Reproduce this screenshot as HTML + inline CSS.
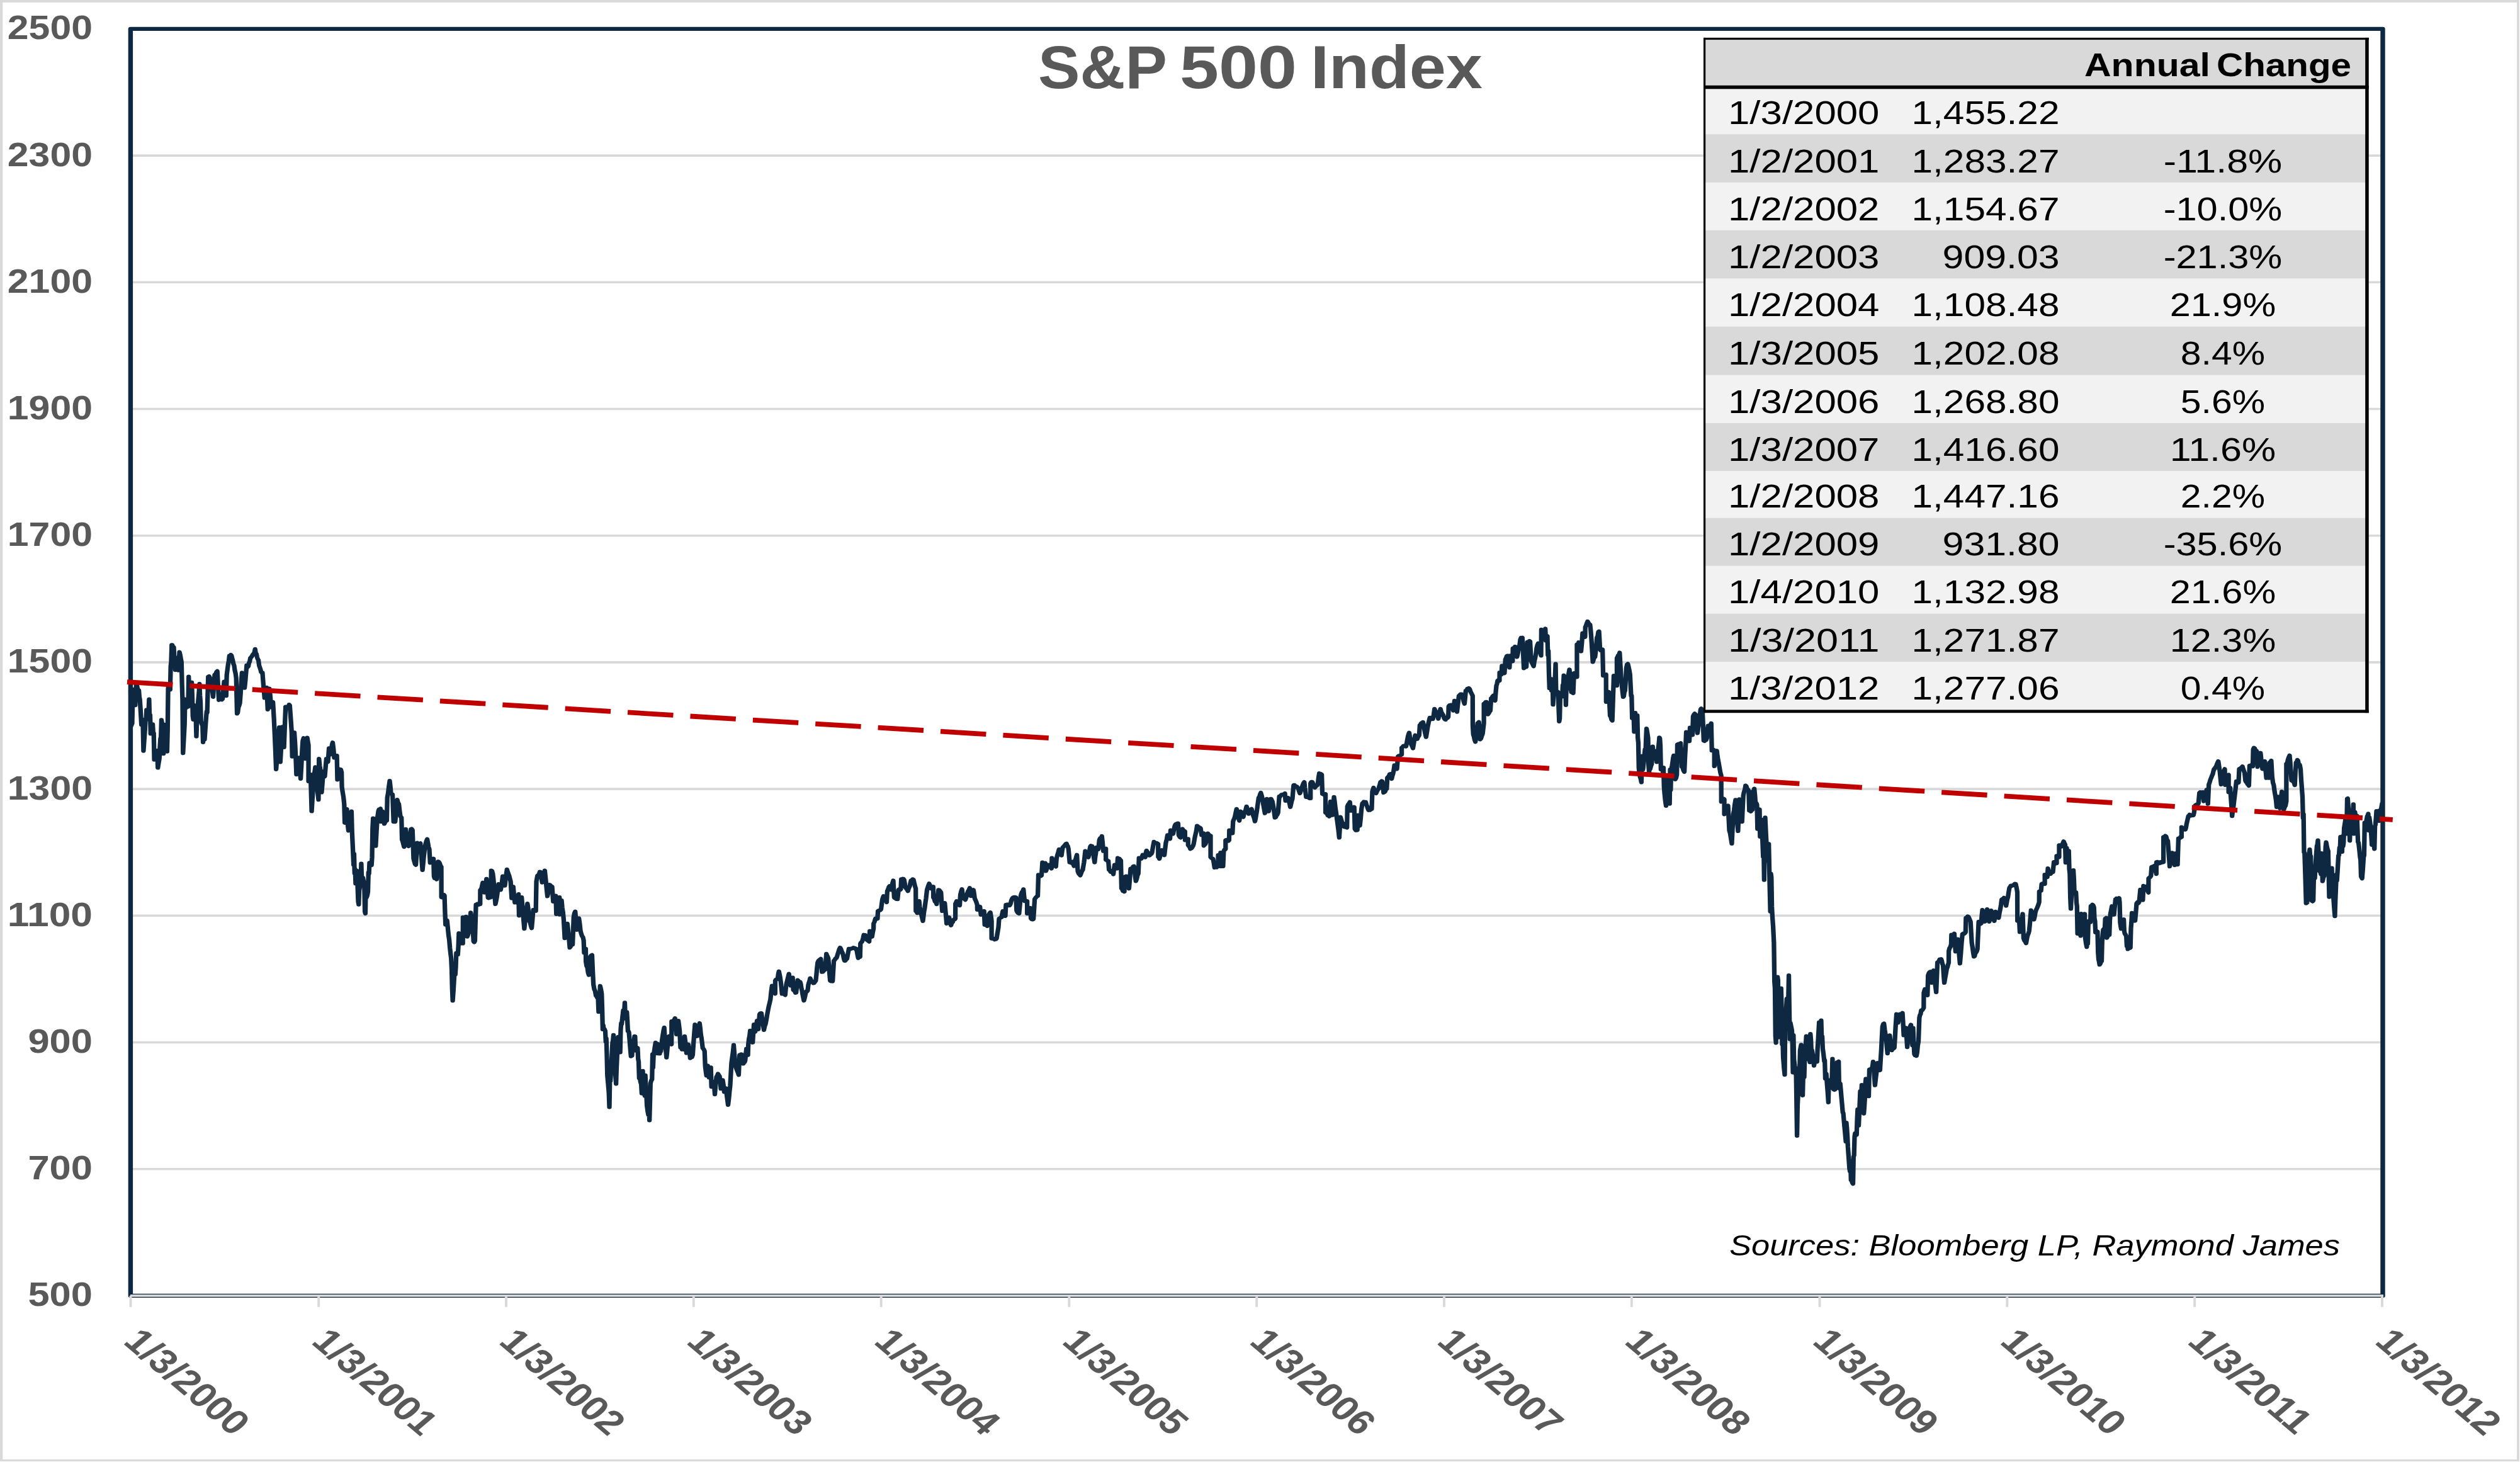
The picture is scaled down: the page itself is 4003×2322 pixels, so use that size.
<!DOCTYPE html>
<html><head><meta charset="utf-8"><title>S&amp;P 500 Index</title>
<style>
html,body{margin:0;padding:0;background:#fff;}
body{width:4003px;height:2322px;overflow:hidden;font-family:"Liberation Sans",sans-serif;}
svg{display:block;position:absolute;left:0;top:0;}
text{font-family:"Liberation Sans",sans-serif;}
.b{font-weight:bold;fill:#595959;}
.t{fill:#000;}
</style></head><body>
<svg width="4003" height="2322" viewBox="0 0 4003 2322">
<rect x="0" y="0" width="4003" height="2322" fill="#fff"/>
<g fill="#D9D9D9"><rect x="0" y="0" width="4002" height="3.9"/><rect x="0" y="0" width="4.3" height="2321"/><rect x="3998.1" y="0" width="3.8" height="2321"/><rect x="0" y="2317.9" width="4002" height="3.1"/></g>

<g stroke="#D9D9D9" stroke-width="3.6" fill="none">
<line x1="207.4" y1="247.1" x2="3785.0" y2="247.1"/>
<line x1="207.4" y1="448.3" x2="3785.0" y2="448.3"/>
<line x1="207.4" y1="649.5" x2="3785.0" y2="649.5"/>
<line x1="207.4" y1="850.7" x2="3785.0" y2="850.7"/>
<line x1="207.4" y1="1051.9" x2="3785.0" y2="1051.9"/>
<line x1="207.4" y1="1253.1" x2="3785.0" y2="1253.1"/>
<line x1="207.4" y1="1454.3" x2="3785.0" y2="1454.3"/>
<line x1="207.4" y1="1655.5" x2="3785.0" y2="1655.5"/>
<line x1="207.4" y1="1856.7" x2="3785.0" y2="1856.7"/>
</g>
<g transform="scale(1.177,1)"><path d="M176.30,1096.9 L176.99,1153.1 L177.68,1150.4 L178.38,1149.0 L179.07,1110.8 L180.11,1102.1 L181.15,1094.6 L181.84,1113.7 L182.54,1120.1 L183.23,1102.5 L183.92,1087.0 L184.85,1089.1 L185.77,1094.2 L186.69,1097.0 L187.39,1096.3 L188.08,1106.7 L188.77,1110.9 L189.81,1129.4 L190.85,1151.0 L191.55,1142.4 L192.24,1148.4 L192.93,1153.9 L193.63,1192.6 L194.67,1175.4 L195.71,1158.1 L196.40,1143.2 L197.09,1143.3 L197.79,1127.4 L198.48,1128.0 L199.52,1127.6 L200.56,1128.1 L201.25,1110.5 L201.95,1140.7 L202.64,1135.6 L203.33,1165.5 L204.37,1162.6 L205.41,1162.6 L206.11,1150.4 L206.80,1164.9 L207.49,1164.3 L208.19,1206.7 L209.11,1204.7 L210.04,1200.9 L210.96,1200.6 L211.65,1192.0 L212.35,1199.3 L213.04,1219.5 L214.08,1211.9 L215.12,1204.8 L215.81,1186.3 L216.51,1173.4 L217.20,1170.8 L217.89,1143.3 L218.93,1150.7 L219.97,1161.3 L220.67,1197.1 L221.36,1186.0 L222.05,1150.8 L222.75,1157.5 L223.79,1161.7 L224.83,1169.0 L225.52,1193.6 L226.21,1160.4 L226.91,1093.7 L227.60,1087.6 L228.64,1091.3 L229.68,1095.5 L230.37,1058.1 L231.06,1051.3 L231.76,1024.4 L232.45,1024.3 L233.49,1027.5 L234.53,1027.9 L235.22,1044.1 L235.92,1043.3 L236.61,1064.1 L237.30,1053.3 L238.34,1047.9 L239.38,1045.9 L240.08,1057.2 L240.77,1064.6 L241.46,1050.6 L242.16,1035.5 L243.20,1040.2 L244.24,1047.4 L244.93,1051.3 L245.62,1084.9 L246.32,1111.7 L247.01,1196.2 L248.05,1174.2 L249.09,1151.1 L249.78,1110.6 L250.48,1124.9 L251.17,1117.8 L252.09,1121.2 L253.02,1121.2 L253.94,1122.5 L254.64,1074.6 L255.33,1091.1 L256.02,1087.2 L256.72,1099.8 L257.76,1091.3 L258.80,1083.8 L259.49,1105.9 L260.18,1137.3 L260.88,1142.9 L261.57,1119.7 L262.61,1126.1 L263.65,1128.2 L264.34,1140.3 L265.04,1169.6 L265.73,1144.6 L266.42,1131.4 L267.46,1113.5 L268.50,1099.8 L269.20,1086.1 L269.89,1104.4 L270.58,1115.1 L271.28,1145.5 L272.32,1150.2 L273.36,1151.8 L274.05,1178.8 L274.74,1153.5 L275.44,1171.1 L276.13,1174.6 L277.05,1158.8 L277.98,1143.2 L278.90,1129.9 L279.59,1131.8 L280.29,1103.4 L280.98,1074.8 L282.16,1074.0 L283.34,1076.8 L284.40,1079.2 L285.46,1083.4 L286.53,1096.6 L287.59,1106.8 L288.65,1087.8 L289.72,1071.8 L290.60,1070.7 L291.49,1069.5 L292.38,1066.8 L293.26,1065.9 L294.33,1089.1 L295.39,1111.8 L296.38,1109.5 L297.37,1109.2 L298.37,1109.5 L299.36,1111.3 L300.35,1110.1 L301.41,1096.1 L302.48,1082.6 L303.42,1089.3 L304.37,1098.0 L305.31,1105.1 L306.02,1071.8 L306.91,1064.0 L307.79,1055.8 L308.68,1050.6 L309.57,1041.7 L310.51,1042.4 L311.46,1040.0 L312.40,1040.9 L313.29,1045.2 L314.17,1048.9 L315.06,1054.5 L315.94,1056.7 L316.89,1064.5 L317.84,1069.1 L318.78,1076.8 L319.91,1133.5 L320.87,1131.7 L321.83,1123.3 L322.79,1120.6 L323.74,1116.8 L324.69,1102.0 L325.63,1082.7 L326.58,1068.4 L327.46,1074.4 L328.35,1078.1 L329.24,1087.5 L330.12,1092.6 L331.07,1082.2 L332.01,1069.1 L332.96,1056.7 L334.02,1059.7 L335.08,1058.4 L336.03,1052.9 L336.97,1050.7 L337.92,1045.1 L338.98,1043.9 L340.05,1042.2 L341.11,1039.8 L342.17,1038.4 L343.24,1036.7 L344.30,1030.9 L345.18,1037.6 L346.07,1038.6 L346.96,1043.8 L347.84,1046.7 L348.79,1048.5 L349.73,1056.9 L350.68,1060.1 L351.56,1063.1 L352.45,1067.4 L353.34,1068.4 L354.22,1068.4 L355.64,1090.1 L357.06,1108.5 L358.00,1101.5 L358.95,1096.6 L359.89,1091.8 L361.31,1126.8 L362.37,1111.2 L363.44,1093.5 L364.38,1100.4 L365.33,1113.2 L366.27,1123.5 L367.34,1117.1 L368.40,1115.1 L369.82,1143.5 L370.76,1167.0 L371.71,1192.8 L372.65,1221.9 L373.72,1207.0 L374.78,1186.1 L375.84,1170.2 L376.91,1155.2 L378.32,1210.3 L379.27,1190.9 L380.21,1175.5 L381.16,1154.4 L382.22,1167.8 L383.28,1186.9 L384.35,1154.4 L385.41,1122.7 L386.36,1122.6 L387.30,1124.4 L388.25,1123.6 L389.19,1123.5 L390.14,1119.1 L391.08,1120.2 L391.95,1133.9 L392.81,1147.9 L393.68,1163.3 L394.39,1201.7 L395.33,1191.8 L396.28,1179.5 L397.22,1163.3 L398.15,1179.1 L399.07,1200.1 L400.06,1230.1 L400.94,1221.0 L401.83,1214.7 L402.72,1208.1 L403.60,1203.4 L404.67,1220.0 L405.73,1236.8 L406.67,1217.4 L407.62,1195.0 L408.57,1176.7 L409.77,1172.2 L410.98,1175.0 L412.11,1205.1 L412.96,1193.4 L413.81,1181.9 L414.66,1171.7 L415.51,1178.0 L416.36,1183.4 L416.36,1240.9 L417.31,1240.6 L418.25,1235.1 L419.20,1230.1 L420.62,1288.5 L421.56,1270.2 L422.51,1252.6 L423.45,1233.4 L424.51,1227.1 L425.58,1218.4 L426.64,1228.1 L427.70,1243.4 L428.77,1259.3 L429.83,1270.1 L430.54,1205.1 L431.60,1216.8 L432.67,1225.1 L434.08,1258.5 L435.15,1243.9 L436.21,1225.1 L437.27,1230.9 L438.34,1233.4 L439.40,1218.7 L440.46,1205.1 L441.53,1207.0 L442.59,1210.1 L444.01,1188.4 L445.07,1191.2 L446.13,1198.4 L447.08,1192.7 L448.02,1183.3 L448.97,1179.2 L450.03,1189.0 L451.10,1203.4 L451.98,1201.0 L452.87,1200.0 L453.75,1200.1 L454.64,1200.1 L455.35,1238.4 L456.23,1231.9 L457.12,1227.5 L458.01,1224.1 L458.89,1221.8 L459.96,1222.2 L461.02,1226.8 L461.44,1250.1 L462.48,1258.4 L463.52,1265.6 L464.56,1276.8 L465.27,1306.8 L466.22,1301.4 L467.16,1292.9 L468.11,1285.2 L469.55,1312.2 L470.25,1319.3 L471.29,1314.2 L472.33,1312.0 L473.02,1299.6 L473.71,1291.4 L474.41,1288.6 L475.10,1320.1 L476.14,1345.8 L477.18,1373.7 L477.87,1356.1 L478.57,1387.2 L479.26,1380.3 L479.95,1403.5 L480.99,1392.6 L482.03,1383.1 L482.73,1411.4 L483.42,1432.0 L484.11,1436.6 L484.81,1414.2 L485.85,1407.2 L486.89,1401.3 L487.58,1371.6 L488.27,1400.7 L488.97,1406.1 L489.66,1393.6 L490.70,1399.2 L491.74,1408.2 L492.43,1447.8 L493.13,1451.0 L493.82,1402.6 L494.51,1425.7 L495.55,1422.7 L496.59,1416.5 L497.29,1385.5 L497.98,1388.0 L498.67,1370.3 L499.60,1373.7 L500.52,1372.7 L501.45,1374.1 L502.14,1361.9 L502.83,1315.3 L503.53,1299.7 L504.22,1310.5 L504.97,1300.2 L506.03,1321.8 L507.09,1343.6 L508.16,1320.1 L509.22,1300.2 L510.64,1288.5 L511.58,1285.4 L512.53,1285.1 L513.47,1284.3 L514.18,1305.2 L515.25,1295.8 L516.31,1288.5 L517.51,1300.0 L518.72,1308.5 L519.81,1305.4 L520.89,1303.1 L521.98,1303.5 L522.69,1266.8 L523.78,1259.8 L524.86,1249.1 L525.95,1240.1 L526.80,1248.6 L527.65,1260.1 L528.71,1261.2 L529.78,1261.8 L531.19,1305.2 L532.26,1303.1 L533.32,1305.2 L534.27,1293.6 L535.21,1283.9 L536.16,1270.1 L537.22,1275.1 L538.28,1276.8 L539.35,1287.7 L540.41,1296.8 L541.83,1298.5 L542.54,1333.5 L543.48,1336.4 L544.43,1340.8 L545.37,1345.2 L546.43,1329.5 L547.50,1316.9 L548.44,1326.7 L549.39,1334.2 L550.33,1342.7 L551.40,1343.9 L552.46,1342.7 L553.52,1329.1 L554.59,1316.9 L555.65,1316.5 L556.71,1318.5 L558.13,1363.6 L559.17,1368.3 L560.21,1372.4 L561.25,1373.6 L562.17,1357.6 L563.09,1338.6 L564.16,1340.1 L565.22,1340.4 L566.28,1340.2 L567.35,1339.4 L568.29,1352.4 L569.24,1367.8 L570.18,1381.9 L571.07,1371.7 L571.95,1360.7 L572.84,1351.1 L573.73,1343.6 L574.67,1339.0 L575.62,1335.3 L576.56,1332.7 L577.51,1338.9 L578.45,1345.3 L579.40,1348.6 L580.53,1370.3 L581.66,1368.4 L582.80,1368.8 L583.93,1367.4 L585.07,1363.6 L585.68,1391.7 L586.56,1394.9 L587.45,1393.6 L588.33,1394.3 L589.22,1396.7 L590.28,1381.4 L591.35,1368.3 L592.41,1369.1 L593.47,1371.2 L594.54,1375.1 L595.60,1376.7 L595.73,1425.1 L596.88,1425.4 L598.04,1423.9 L599.20,1421.2 L599.89,1422.4 L600.58,1447.9 L601.28,1468.6 L602.32,1465.1 L603.36,1461.8 L604.33,1473.3 L605.30,1484.7 L606.27,1492.5 L607.24,1505.8 L608.21,1515.9 L608.90,1522.0 L609.60,1538.7 L610.29,1570.5 L610.98,1589.3 L612.02,1572.1 L613.06,1551.4 L613.76,1542.6 L614.45,1547.8 L615.14,1536.2 L615.84,1513.7 L616.88,1516.1 L617.92,1516.1 L618.61,1503.3 L619.30,1482.2 L620.00,1484.9 L620.69,1483.1 L621.61,1491.8 L622.54,1498.5 L623.60,1498.4 L624.66,1498.5 L624.79,1456.8 L625.79,1470.5 L626.79,1486.8 L627.85,1472.5 L628.92,1455.9 L629.77,1471.1 L630.62,1487.6 L631.47,1485.2 L632.32,1482.2 L633.17,1476.8 L634.23,1462.6 L635.30,1449.3 L636.50,1457.6 L637.71,1466.8 L639.12,1495.2 L640.04,1496.5 L640.97,1494.3 L642.38,1436.8 L643.27,1437.6 L644.16,1435.5 L645.04,1435.4 L645.93,1436.8 L646.99,1435.0 L648.05,1435.9 L648.18,1413.4 L649.18,1412.9 L650.18,1409.2 L651.60,1401.7 L652.66,1410.8 L653.73,1417.6 L654.67,1409.0 L655.62,1404.4 L656.56,1395.9 L657.62,1412.8 L658.69,1425.9 L659.68,1426.4 L660.67,1424.9 L661.66,1425.5 L662.66,1425.1 L662.94,1382.5 L664.00,1383.3 L665.07,1387.5 L665.99,1396.6 L666.91,1410.1 L667.76,1425.1 L668.61,1435.9 L669.67,1430.3 L670.74,1423.4 L671.80,1413.9 L672.86,1404.2 L673.81,1409.2 L674.75,1410.0 L675.70,1413.4 L676.64,1407.8 L677.59,1400.4 L678.53,1391.7 L679.48,1395.5 L680.42,1400.7 L681.37,1406.7 L682.31,1397.2 L683.26,1388.4 L684.21,1380.9 L685.27,1385.0 L686.33,1388.4 L687.28,1391.3 L688.22,1395.8 L689.17,1400.0 L690.58,1426.7 L691.65,1416.0 L692.71,1408.4 L693.77,1422.6 L694.84,1433.4 L695.90,1432.8 L696.96,1433.4 L697.91,1428.8 L698.85,1424.9 L699.80,1420.1 L700.51,1454.3 L701.39,1448.8 L702.28,1439.3 L703.17,1434.2 L704.05,1425.1 L704.94,1437.6 L705.82,1450.2 L706.71,1462.7 L707.60,1475.1 L708.66,1462.9 L709.72,1454.8 L710.79,1443.7 L711.85,1435.1 L712.80,1442.3 L713.74,1455.3 L714.69,1463.5 L715.63,1465.6 L716.58,1470.6 L717.52,1474.3 L718.58,1460.7 L719.65,1445.1 L720.53,1445.8 L721.42,1445.1 L722.31,1446.4 L723.19,1446.8 L723.90,1400.0 L725.32,1390.9 L726.38,1389.7 L727.44,1389.3 L728.51,1384.6 L729.57,1385.0 L730.63,1393.7 L731.70,1401.7 L732.58,1395.7 L733.47,1391.0 L734.36,1388.6 L735.24,1382.5 L736.09,1392.2 L736.94,1401.7 L737.86,1412.9 L738.79,1423.4 L739.73,1418.6 L740.68,1413.2 L741.62,1405.1 L742.51,1405.6 L743.39,1407.3 L744.28,1407.6 L745.17,1408.4 L746.58,1431.8 L747.47,1429.5 L748.36,1428.1 L749.24,1424.6 L750.13,1422.6 L750.84,1451.8 L751.90,1445.3 L752.96,1438.3 L754.03,1433.9 L755.09,1425.1 L755.22,1452.6 L756.12,1446.1 L757.02,1439.4 L757.92,1430.1 L758.87,1442.1 L759.81,1449.0 L760.76,1460.1 L762.18,1490.2 L763.06,1484.6 L763.95,1480.4 L764.84,1474.1 L765.72,1466.8 L766.81,1477.9 L767.90,1490.7 L768.98,1505.2 L769.94,1503.7 L770.90,1500.8 L771.85,1500.3 L772.81,1500.2 L774.23,1456.8 L775.29,1450.3 L776.35,1447.6 L777.42,1463.0 L778.48,1476.8 L779.43,1472.0 L780.37,1466.3 L781.32,1458.4 L782.38,1466.9 L783.44,1478.5 L784.51,1483.2 L785.57,1486.7 L786.63,1488.2 L787.70,1493.5 L788.40,1513.5 L789.47,1511.8 L790.53,1506.8 L790.66,1526.9 L791.69,1534.4 L792.72,1536.4 L793.75,1545.2 L794.78,1548.6 L795.85,1533.1 L796.91,1518.5 L797.97,1517.6 L799.04,1516.8 L799.97,1542.4 L800.90,1563.5 L802.02,1571.0 L803.15,1573.9 L804.27,1581.3 L805.24,1582.7 L806.21,1584.8 L807.18,1586.4 L807.88,1607.1 L808.57,1601.2 L809.96,1565.9 L811.00,1571.3 L812.04,1578.1 L812.73,1602.4 L813.42,1634.9 L814.12,1628.0 L814.81,1634.0 L815.85,1634.4 L816.89,1637.5 L817.58,1654.6 L818.28,1649.4 L818.97,1674.1 L819.66,1708.1 L820.70,1721.3 L821.74,1736.1 L822.44,1758.4 L823.13,1712.4 L823.82,1717.2 L824.51,1702.9 L825.55,1680.6 L826.59,1656.5 L827.29,1652.7 L827.98,1643.8 L828.67,1670.9 L829.37,1691.5 L830.41,1704.6 L831.45,1721.3 L832.14,1696.2 L832.83,1678.9 L833.53,1650.0 L834.22,1646.8 L835.26,1649.4 L836.30,1651.7 L836.99,1671.4 L837.69,1635.8 L838.38,1625.1 L839.07,1626.6 L840.11,1615.3 L841.15,1604.5 L841.85,1617.8 L842.54,1605.8 L843.23,1592.4 L843.93,1614.4 L844.97,1609.3 L846.01,1607.3 L846.70,1620.5 L847.39,1637.5 L848.09,1637.6 L848.78,1639.3 L849.70,1651.6 L850.63,1665.2 L851.55,1677.6 L852.25,1662.1 L852.94,1676.5 L853.63,1661.6 L854.67,1657.1 L855.71,1652.5 L856.41,1645.9 L857.10,1646.0 L857.79,1668.7 L858.49,1665.8 L859.53,1663.7 L860.57,1664.5 L861.26,1682.1 L861.95,1686.2 L862.65,1712.5 L863.34,1710.4 L864.38,1718.0 L865.42,1722.2 L866.11,1736.7 L866.81,1716.2 L867.50,1700.8 L868.19,1728.6 L869.23,1735.6 L870.27,1740.7 L870.96,1707.9 L871.66,1728.0 L872.35,1737.0 L873.04,1755.5 L874.08,1764.7 L875.12,1770.9 L875.82,1757.6 L876.51,1779.5 L877.20,1752.2 L877.90,1720.6 L878.94,1716.1 L879.98,1714.4 L880.67,1674.3 L881.36,1695.7 L882.06,1676.4 L882.75,1671.2 L883.79,1662.6 L884.83,1655.8 L885.52,1665.4 L886.22,1659.4 L886.91,1673.1 L887.60,1657.9 L888.64,1659.9 L889.68,1665.3 L890.38,1673.5 L891.07,1664.8 L891.76,1669.8 L892.69,1661.3 L893.62,1650.8 L894.57,1643.7 L895.53,1636.9 L896.48,1631.9 L897.83,1658.7 L898.67,1668.9 L899.52,1679.6 L900.36,1670.2 L901.20,1658.9 L902.04,1646.8 L902.89,1645.9 L903.73,1646.8 L904.57,1649.5 L905.42,1656.3 L906.26,1658.7 L906.39,1622.0 L907.59,1621.8 L908.79,1621.0 L909.88,1619.8 L910.98,1617.1 L911.99,1628.5 L913.00,1642.9 L913.84,1634.0 L914.69,1629.0 L915.53,1621.0 L916.37,1628.7 L917.22,1636.9 L918.40,1663.7 L919.37,1662.9 L920.33,1666.8 L921.30,1666.4 L922.27,1666.7 L923.12,1657.4 L923.96,1645.8 L924.80,1653.2 L925.64,1665.0 L926.49,1672.6 L927.33,1666.3 L928.17,1664.7 L929.02,1658.7 L929.86,1665.8 L930.70,1672.7 L931.55,1680.6 L932.67,1679.1 L933.79,1678.9 L934.92,1675.6 L935.76,1660.3 L936.60,1646.8 L937.95,1627.0 L938.91,1631.9 L939.86,1639.7 L940.82,1645.8 L941.94,1637.9 L943.06,1630.5 L944.19,1625.0 L945.03,1632.6 L945.87,1642.9 L946.72,1648.4 L947.56,1656.3 L948.40,1664.7 L949.25,1665.6 L950.09,1667.2 L950.93,1669.6 L951.77,1693.5 L952.62,1701.9 L953.46,1708.3 L954.30,1699.5 L955.15,1692.5 L955.99,1701.9 L956.83,1711.3 L957.67,1704.7 L958.52,1700.1 L959.36,1695.4 L960.20,1726.2 L961.33,1721.6 L962.45,1719.9 L963.57,1718.3 L964.75,1738.1 L965.85,1722.3 L966.95,1710.3 L967.96,1708.8 L968.97,1705.4 L970.06,1707.5 L971.16,1709.3 L972.00,1718.0 L972.85,1729.2 L973.69,1724.4 L974.53,1721.6 L975.37,1715.3 L976.39,1723.1 L977.40,1734.1 L978.49,1732.4 L979.59,1728.2 L980.60,1736.8 L981.61,1746.0 L982.62,1755.0 L983.58,1746.0 L984.53,1734.0 L985.49,1724.2 L986.33,1706.4 L987.17,1688.5 L988.19,1679.6 L989.20,1671.2 L990.21,1659.7 L991.22,1674.5 L992.23,1690.5 L993.18,1695.2 L994.12,1698.0 L995.06,1701.1 L996.01,1703.6 L996.95,1707.3 L998.13,1675.6 L999.19,1675.3 L1000.24,1674.4 L1001.29,1674.9 L1002.35,1676.6 L1003.19,1689.5 L1004.03,1686.2 L1004.88,1687.1 L1005.72,1684.5 L1006.56,1674.2 L1007.40,1665.7 L1008.42,1669.4 L1009.43,1675.6 L1009.93,1658.7 L1010.78,1649.9 L1011.62,1645.5 L1012.46,1636.9 L1013.58,1644.5 L1014.71,1650.1 L1015.83,1655.8 L1016.68,1640.6 L1017.52,1627.0 L1018.36,1632.0 L1019.20,1638.9 L1020.05,1632.2 L1020.89,1626.8 L1021.73,1621.0 L1022.58,1626.7 L1023.42,1634.9 L1024.26,1622.8 L1025.10,1611.1 L1025.95,1609.6 L1026.79,1611.5 L1027.63,1609.1 L1028.76,1619.8 L1029.88,1627.2 L1031.00,1635.9 L1032.13,1629.4 L1033.25,1626.3 L1034.38,1619.0 L1035.39,1611.5 L1036.40,1605.2 L1037.49,1598.7 L1038.59,1593.3 L1039.77,1587.3 L1040.87,1574.8 L1041.96,1565.5 L1043.02,1568.3 L1044.07,1571.8 L1045.12,1575.2 L1046.18,1578.4 L1046.30,1557.5 L1047.38,1555.6 L1048.47,1555.6 L1049.55,1554.6 L1050.39,1547.1 L1051.23,1542.7 L1052.08,1547.5 L1052.92,1552.6 L1053.76,1559.5 L1054.60,1568.6 L1055.45,1578.4 L1056.50,1577.4 L1057.55,1577.9 L1058.61,1579.3 L1059.66,1580.4 L1060.50,1570.6 L1061.35,1562.5 L1062.47,1557.5 L1063.60,1552.0 L1064.72,1546.6 L1065.56,1553.6 L1066.41,1559.7 L1067.25,1565.5 L1068.09,1561.8 L1068.93,1558.0 L1069.78,1552.6 L1070.62,1572.4 L1071.59,1573.1 L1072.56,1573.9 L1073.53,1576.9 L1074.50,1576.4 L1075.51,1565.4 L1076.52,1556.5 L1077.64,1558.2 L1078.77,1559.0 L1079.89,1559.5 L1080.73,1562.8 L1081.58,1569.8 L1082.42,1573.4 L1083.26,1579.8 L1084.11,1584.4 L1084.95,1589.3 L1085.79,1585.7 L1086.63,1581.6 L1087.48,1576.4 L1088.32,1574.4 L1089.16,1574.5 L1090.01,1573.4 L1090.85,1564.5 L1091.69,1560.9 L1092.53,1558.1 L1093.38,1553.6 L1094.43,1556.4 L1095.48,1558.4 L1096.54,1559.7 L1097.59,1561.5 L1098.72,1561.2 L1099.84,1559.3 L1100.96,1557.5 L1101.81,1548.5 L1102.65,1537.6 L1103.49,1528.8 L1104.55,1526.0 L1105.60,1524.8 L1106.65,1523.9 L1107.71,1522.8 L1108.55,1532.2 L1109.39,1543.7 L1110.45,1543.5 L1111.50,1541.8 L1112.55,1541.0 L1113.61,1539.7 L1114.45,1527.6 L1115.29,1514.9 L1116.13,1517.6 L1116.98,1519.5 L1117.82,1521.8 L1118.66,1532.5 L1119.51,1546.4 L1120.35,1557.5 L1121.47,1558.5 L1122.60,1558.2 L1123.72,1558.5 L1124.56,1542.2 L1125.41,1525.8 L1126.53,1524.8 L1127.65,1522.1 L1128.78,1521.8 L1129.62,1519.4 L1130.46,1515.9 L1131.59,1511.7 L1132.71,1507.6 L1133.84,1505.0 L1134.96,1507.4 L1136.08,1511.4 L1137.21,1513.9 L1138.05,1517.2 L1138.89,1522.4 L1139.74,1525.8 L1140.86,1525.9 L1141.98,1523.8 L1143.11,1522.8 L1143.95,1517.3 L1144.79,1512.2 L1145.64,1506.9 L1146.65,1507.2 L1147.66,1507.1 L1148.67,1506.6 L1149.68,1506.5 L1150.69,1506.0 L1151.70,1505.2 L1152.72,1505.6 L1153.73,1506.0 L1154.74,1507.3 L1155.75,1506.9 L1156.59,1511.5 L1157.44,1517.0 L1158.28,1521.8 L1159.12,1520.0 L1159.96,1519.5 L1160.81,1519.8 L1161.25,1498.6 L1162.09,1496.7 L1162.93,1496.3 L1163.77,1494.6 L1164.79,1490.1 L1165.80,1484.7 L1166.77,1485.6 L1167.74,1485.2 L1168.70,1486.2 L1169.67,1486.7 L1169.80,1492.6 L1170.88,1493.5 L1171.96,1494.5 L1173.05,1495.6 L1173.89,1478.7 L1174.90,1480.9 L1175.91,1485.5 L1176.92,1487.7 L1177.93,1480.6 L1178.95,1474.8 L1179.07,1466.8 L1180.27,1463.8 L1181.47,1458.9 L1182.43,1459.8 L1183.38,1457.9 L1184.34,1458.9 L1184.85,1447.0 L1185.90,1446.2 L1186.95,1446.1 L1188.01,1445.7 L1189.06,1444.0 L1189.90,1436.5 L1190.75,1429.1 L1191.59,1425.7 L1192.43,1423.2 L1193.49,1425.0 L1194.54,1429.1 L1195.59,1430.0 L1196.65,1433.1 L1197.49,1415.2 L1198.50,1412.8 L1199.51,1409.1 L1200.52,1407.3 L1201.53,1410.3 L1202.55,1413.3 L1203.56,1409.4 L1204.57,1402.5 L1205.58,1398.4 L1206.76,1425.2 L1207.67,1426.5 L1208.58,1426.4 L1209.49,1427.9 L1210.40,1428.0 L1211.31,1428.1 L1212.66,1413.3 L1213.67,1412.3 L1214.68,1413.5 L1215.70,1412.3 L1216.37,1396.4 L1217.34,1396.6 L1218.31,1395.7 L1219.28,1395.9 L1220.25,1397.4 L1221.09,1403.3 L1221.93,1409.3 L1223.06,1411.1 L1224.18,1412.8 L1225.30,1415.2 L1226.15,1411.7 L1226.99,1409.5 L1227.83,1407.3 L1228.68,1402.4 L1229.52,1398.4 L1230.64,1398.9 L1231.77,1396.4 L1232.89,1397.4 L1233.90,1402.7 L1234.91,1407.6 L1235.92,1411.3 L1236.05,1447.0 L1236.96,1446.9 L1237.88,1450.1 L1238.79,1450.0 L1239.63,1441.1 L1240.48,1431.1 L1241.32,1440.1 L1242.16,1447.0 L1243.29,1451.7 L1244.41,1457.2 L1245.53,1462.9 L1246.38,1454.6 L1247.22,1447.0 L1248.06,1441.7 L1248.90,1434.0 L1249.75,1427.1 L1251.10,1413.3 L1252.05,1409.6 L1253.01,1406.4 L1253.96,1403.3 L1254.80,1405.4 L1255.65,1407.4 L1256.49,1411.3 L1257.50,1409.2 L1258.51,1410.2 L1259.52,1408.3 L1259.65,1425.2 L1260.76,1427.3 L1261.86,1431.8 L1262.97,1432.7 L1264.08,1436.1 L1264.92,1427.8 L1265.76,1420.9 L1266.60,1413.3 L1267.73,1413.7 L1268.85,1415.6 L1269.98,1417.2 L1270.82,1433.3 L1271.66,1447.0 L1272.79,1443.7 L1273.91,1439.2 L1275.03,1434.1 L1275.88,1444.9 L1276.72,1454.9 L1277.56,1466.8 L1278.69,1464.7 L1279.81,1461.4 L1280.93,1456.9 L1281.78,1461.3 L1282.62,1466.1 L1283.46,1469.8 L1284.59,1465.6 L1285.71,1464.5 L1286.83,1460.9 L1287.68,1460.1 L1288.52,1460.2 L1289.36,1458.9 L1289.49,1435.1 L1290.27,1433.5 L1291.05,1431.1 L1292.10,1432.3 L1293.16,1433.4 L1294.21,1437.4 L1295.26,1438.1 L1296.11,1421.2 L1297.20,1415.8 L1298.30,1412.3 L1299.14,1419.6 L1299.98,1427.1 L1300.94,1427.4 L1301.89,1428.0 L1302.85,1429.1 L1303.69,1426.4 L1304.53,1423.7 L1305.38,1419.2 L1306.50,1415.6 L1307.62,1413.6 L1308.75,1410.3 L1309.59,1416.2 L1310.43,1423.2 L1311.56,1420.0 L1312.68,1416.3 L1313.81,1413.3 L1314.65,1419.4 L1315.49,1427.1 L1316.62,1429.6 L1317.74,1433.0 L1318.86,1437.1 L1318.99,1445.0 L1319.89,1444.7 L1320.78,1442.5 L1321.68,1440.6 L1322.57,1440.0 L1323.92,1452.9 L1324.97,1452.3 L1326.03,1451.1 L1327.08,1448.4 L1328.13,1447.0 L1328.98,1468.8 L1330.10,1468.7 L1331.23,1469.4 L1332.35,1470.8 L1333.36,1460.9 L1334.37,1452.9 L1335.47,1450.6 L1336.56,1449.0 L1337.41,1455.0 L1338.25,1462.9 L1338.25,1490.6 L1339.26,1490.2 L1340.27,1490.5 L1341.28,1491.4 L1342.29,1492.3 L1343.31,1491.6 L1344.15,1491.7 L1344.99,1490.6 L1345.83,1484.5 L1346.68,1478.5 L1347.52,1472.8 L1348.36,1458.9 L1349.49,1458.3 L1350.61,1457.3 L1351.73,1456.9 L1352.58,1451.5 L1353.42,1447.0 L1354.54,1448.5 L1355.67,1451.7 L1356.79,1454.9 L1357.64,1437.1 L1358.65,1438.4 L1359.66,1436.5 L1360.67,1437.7 L1361.68,1438.2 L1362.69,1438.1 L1363.82,1435.3 L1364.94,1430.1 L1366.06,1427.1 L1366.91,1425.9 L1367.75,1425.2 L1368.59,1425.2 L1369.44,1424.9 L1370.28,1425.0 L1371.12,1425.2 L1371.96,1446.0 L1373.09,1448.8 L1374.21,1450.2 L1375.34,1451.0 L1376.43,1438.0 L1377.53,1423.2 L1378.45,1419.2 L1379.38,1416.5 L1380.31,1415.5 L1381.24,1412.3 L1382.08,1422.7 L1382.92,1431.1 L1384.05,1431.0 L1385.17,1431.3 L1386.29,1431.1 L1386.29,1451.0 L1387.35,1447.5 L1388.40,1446.2 L1389.45,1445.3 L1390.51,1442.0 L1391.35,1458.9 L1392.47,1460.0 L1393.60,1460.4 L1394.72,1459.9 L1395.56,1445.2 L1396.41,1428.1 L1397.46,1426.3 L1398.51,1424.7 L1399.57,1423.5 L1400.62,1423.2 L1401.46,1389.4 L1402.52,1389.8 L1403.57,1390.4 L1404.63,1391.3 L1405.68,1390.4 L1406.86,1369.6 L1407.83,1370.4 L1408.80,1370.5 L1409.77,1371.0 L1410.74,1370.6 L1411.58,1383.5 L1412.70,1380.1 L1413.83,1377.0 L1414.95,1373.6 L1416.00,1373.8 L1417.06,1377.3 L1418.11,1377.3 L1419.16,1379.5 L1419.67,1362.7 L1420.75,1366.6 L1421.83,1368.6 L1422.91,1370.4 L1423.99,1372.7 L1425.07,1376.5 L1425.91,1363.7 L1427.03,1358.0 L1428.16,1354.1 L1429.28,1348.8 L1430.40,1352.6 L1431.53,1354.3 L1432.65,1358.7 L1433.49,1351.1 L1434.34,1345.8 L1435.35,1344.7 L1436.36,1343.6 L1437.37,1341.9 L1438.38,1340.3 L1439.39,1339.8 L1440.24,1342.8 L1441.08,1343.8 L1441.92,1347.8 L1442.77,1358.1 L1443.61,1369.6 L1444.66,1369.2 L1445.72,1370.4 L1446.77,1369.3 L1447.82,1368.6 L1448.67,1373.1 L1449.51,1375.6 L1450.48,1371.0 L1451.45,1365.9 L1452.42,1361.5 L1453.39,1357.7 L1454.57,1383.5 L1455.69,1387.0 L1456.81,1388.7 L1457.94,1390.4 L1459.06,1387.0 L1460.18,1383.3 L1461.31,1381.5 L1462.15,1375.6 L1462.99,1369.6 L1463.84,1361.1 L1464.68,1351.7 L1465.73,1354.0 L1466.79,1356.0 L1467.84,1359.6 L1468.89,1361.7 L1469.74,1357.2 L1470.58,1349.7 L1471.42,1344.8 L1472.27,1343.2 L1473.11,1343.7 L1473.95,1343.8 L1475.08,1352.2 L1476.20,1361.5 L1477.32,1369.6 L1478.17,1360.8 L1479.01,1354.5 L1479.85,1345.8 L1480.69,1347.5 L1481.54,1347.8 L1482.38,1348.8 L1483.73,1333.9 L1484.85,1331.1 L1485.98,1331.3 L1487.10,1327.9 L1488.11,1339.3 L1489.12,1351.7 L1490.25,1351.4 L1491.37,1348.3 L1492.50,1347.8 L1492.50,1365.6 L1493.62,1365.5 L1494.74,1367.7 L1495.87,1367.6 L1496.71,1381.5 L1497.76,1381.9 L1498.82,1384.8 L1499.87,1384.5 L1500.92,1385.5 L1501.77,1386.1 L1502.61,1388.5 L1503.45,1380.2 L1504.30,1373.6 L1505.42,1375.3 L1506.54,1378.0 L1507.67,1379.5 L1508.51,1362.7 L1509.56,1364.8 L1510.62,1363.7 L1511.67,1365.4 L1512.72,1366.6 L1513.57,1411.3 L1514.54,1411.8 L1515.51,1415.0 L1516.47,1414.0 L1517.44,1416.2 L1517.78,1393.4 L1518.91,1391.9 L1520.03,1391.6 L1521.15,1392.4 L1522.00,1398.4 L1522.84,1406.1 L1523.68,1411.3 L1524.78,1396.4 L1525.87,1379.5 L1526.78,1379.3 L1527.69,1379.2 L1528.60,1378.2 L1529.51,1375.9 L1530.42,1375.6 L1531.27,1382.7 L1532.11,1392.6 L1532.95,1399.4 L1534.08,1396.0 L1535.20,1390.2 L1536.32,1387.5 L1537.17,1362.7 L1538.29,1363.4 L1539.42,1363.0 L1540.54,1363.7 L1541.38,1360.4 L1542.22,1357.7 L1543.35,1358.6 L1544.47,1359.5 L1545.60,1361.7 L1546.44,1354.9 L1547.28,1350.8 L1548.41,1352.9 L1549.53,1355.7 L1550.65,1358.7 L1551.71,1358.6 L1552.76,1355.3 L1553.81,1356.2 L1554.87,1353.7 L1555.71,1347.4 L1556.55,1342.1 L1557.40,1336.9 L1558.52,1338.3 L1559.64,1339.0 L1560.77,1338.8 L1561.90,1339.4 L1563.03,1340.3 L1563.15,1361.2 L1563.93,1361.5 L1564.71,1364.1 L1565.84,1359.4 L1566.96,1354.6 L1568.08,1350.2 L1569.21,1353.9 L1570.33,1354.8 L1571.46,1358.2 L1572.47,1348.0 L1573.48,1338.3 L1574.57,1333.3 L1575.67,1326.4 L1576.79,1327.4 L1577.92,1330.2 L1579.04,1332.4 L1579.88,1318.5 L1581.01,1321.1 L1582.13,1323.0 L1583.26,1324.4 L1584.10,1318.9 L1584.94,1314.2 L1585.78,1310.6 L1586.84,1308.9 L1587.89,1309.9 L1588.95,1307.8 L1590.00,1307.6 L1590.84,1326.4 L1591.68,1328.3 L1592.53,1329.9 L1593.37,1330.4 L1594.21,1325.4 L1595.06,1320.6 L1595.90,1316.5 L1597.02,1318.8 L1598.15,1319.4 L1599.27,1320.5 L1599.40,1334.4 L1600.42,1333.3 L1601.44,1333.9 L1602.46,1332.5 L1603.48,1332.4 L1603.48,1342.3 L1604.50,1343.8 L1605.51,1345.1 L1606.52,1348.3 L1607.45,1347.6 L1608.37,1346.8 L1609.30,1344.9 L1610.23,1343.3 L1611.07,1339.9 L1611.91,1334.4 L1612.76,1328.6 L1613.60,1324.5 L1614.44,1320.5 L1615.62,1311.5 L1616.57,1312.3 L1617.51,1314.2 L1618.45,1315.0 L1619.40,1314.4 L1620.34,1315.5 L1621.69,1326.4 L1622.65,1324.8 L1623.60,1324.3 L1624.56,1323.5 L1624.68,1343.3 L1625.71,1341.5 L1626.73,1340.9 L1627.75,1337.3 L1628.77,1336.3 L1630.12,1323.5 L1631.05,1325.2 L1631.97,1326.0 L1632.90,1327.2 L1633.83,1327.4 L1633.83,1361.2 L1634.95,1362.8 L1636.08,1363.4 L1637.20,1364.1 L1638.21,1370.7 L1639.22,1378.0 L1640.17,1377.2 L1641.11,1376.9 L1642.05,1377.5 L1643.00,1375.4 L1643.94,1376.0 L1644.07,1358.2 L1645.15,1363.4 L1646.23,1370.7 L1647.31,1376.0 L1647.31,1354.2 L1648.44,1360.8 L1649.56,1367.6 L1650.69,1376.0 L1651.53,1352.2 L1652.37,1349.7 L1653.21,1349.7 L1654.06,1348.3 L1654.06,1334.4 L1655.00,1333.9 L1655.95,1335.7 L1656.89,1335.4 L1657.83,1335.7 L1658.78,1334.4 L1659.11,1318.5 L1660.17,1319.1 L1661.22,1319.8 L1662.28,1321.1 L1663.33,1323.5 L1664.17,1304.6 L1665.01,1302.0 L1665.86,1299.9 L1666.70,1296.7 L1667.80,1290.6 L1668.89,1284.8 L1669.82,1288.7 L1670.75,1293.9 L1671.67,1299.3 L1672.60,1303.6 L1673.44,1296.7 L1674.29,1288.7 L1675.21,1291.7 L1676.14,1294.2 L1677.07,1295.9 L1677.99,1297.7 L1679.09,1292.1 L1680.19,1288.7 L1681.28,1285.7 L1682.38,1280.8 L1683.33,1284.2 L1684.29,1288.9 L1685.24,1292.7 L1686.21,1290.3 L1687.18,1289.4 L1688.15,1285.9 L1689.12,1284.8 L1690.13,1289.0 L1691.14,1294.7 L1691.99,1297.2 L1692.83,1300.3 L1693.67,1304.6 L1694.52,1300.4 L1695.36,1294.2 L1696.20,1288.7 L1697.04,1281.0 L1697.89,1273.9 L1698.73,1266.9 L1699.68,1265.6 L1700.64,1261.6 L1701.60,1259.0 L1702.69,1263.2 L1703.79,1268.9 L1704.91,1277.3 L1706.03,1284.5 L1707.16,1291.7 L1708.00,1285.4 L1708.84,1275.4 L1709.69,1268.9 L1710.53,1275.4 L1711.37,1283.0 L1712.22,1288.7 L1713.06,1283.1 L1713.90,1276.6 L1714.74,1268.9 L1715.59,1268.9 L1716.43,1271.0 L1717.27,1272.9 L1718.40,1280.4 L1719.52,1289.2 L1720.64,1298.7 L1721.70,1298.0 L1722.75,1294.9 L1723.81,1293.9 L1724.86,1290.7 L1725.70,1277.5 L1726.54,1264.9 L1727.60,1265.2 L1728.65,1263.3 L1729.71,1262.0 L1730.76,1261.9 L1731.88,1262.0 L1733.01,1261.8 L1734.13,1260.0 L1734.97,1271.9 L1736.10,1269.1 L1737.22,1268.8 L1738.34,1266.9 L1739.36,1272.2 L1740.37,1276.0 L1741.38,1281.8 L1742.33,1277.1 L1743.29,1272.1 L1744.24,1268.9 L1745.09,1257.1 L1745.93,1247.1 L1746.98,1246.8 L1748.04,1248.4 L1749.09,1249.0 L1750.14,1249.0 L1751.20,1250.8 L1752.25,1252.9 L1753.31,1256.7 L1754.36,1260.0 L1755.20,1257.6 L1756.05,1252.9 L1756.89,1251.0 L1758.01,1247.4 L1759.14,1244.1 L1760.26,1242.1 L1761.10,1251.0 L1761.95,1258.1 L1762.79,1265.9 L1763.77,1264.7 L1764.75,1265.2 L1765.74,1266.5 L1766.72,1267.4 L1767.70,1268.0 L1768.69,1267.9 L1768.69,1244.1 L1769.53,1242.1 L1770.37,1241.7 L1771.22,1242.1 L1772.34,1245.7 L1773.46,1247.8 L1774.59,1251.0 L1775.71,1249.0 L1776.84,1247.8 L1777.96,1247.1 L1778.80,1242.3 L1779.65,1233.9 L1780.49,1228.2 L1781.61,1229.1 L1782.74,1229.1 L1783.86,1230.2 L1784.70,1261.0 L1785.76,1260.7 L1786.81,1262.2 L1787.86,1262.6 L1788.92,1261.0 L1788.92,1290.7 L1789.93,1291.4 L1790.94,1292.1 L1791.95,1295.1 L1792.96,1294.5 L1793.97,1296.7 L1794.82,1283.1 L1795.66,1272.9 L1796.50,1281.5 L1797.35,1287.2 L1798.19,1294.7 L1799.28,1281.4 L1800.38,1265.9 L1801.34,1273.9 L1802.29,1283.7 L1803.25,1290.7 L1804.30,1300.5 L1805.35,1309.4 L1806.41,1318.9 L1807.46,1330.4 L1808.30,1314.2 L1809.15,1297.7 L1810.20,1301.9 L1811.25,1306.5 L1812.31,1307.4 L1813.36,1312.5 L1814.27,1313.3 L1815.18,1312.9 L1816.09,1313.7 L1817.00,1313.0 L1817.91,1314.5 L1818.42,1280.8 L1819.54,1277.8 L1820.67,1276.2 L1821.79,1273.8 L1822.63,1282.2 L1823.48,1287.7 L1824.53,1285.0 L1825.58,1284.7 L1826.64,1284.3 L1827.69,1281.8 L1828.53,1316.5 L1829.66,1318.7 L1830.78,1316.8 L1831.90,1318.5 L1832.75,1294.7 L1833.59,1299.1 L1834.43,1307.4 L1835.28,1311.5 L1836.37,1299.8 L1837.47,1284.8 L1838.65,1275.8 L1839.56,1275.4 L1840.47,1273.6 L1841.38,1276.0 L1842.29,1273.9 L1843.20,1273.8 L1844.17,1278.3 L1845.14,1280.7 L1846.11,1284.5 L1847.08,1286.7 L1848.13,1285.2 L1849.18,1286.6 L1850.24,1284.4 L1851.29,1284.8 L1852.13,1257.0 L1852.98,1253.7 L1853.82,1251.0 L1854.94,1255.0 L1856.07,1257.9 L1857.19,1260.0 L1858.31,1256.8 L1859.44,1254.5 L1860.56,1253.0 L1861.40,1249.1 L1862.25,1245.8 L1863.09,1242.1 L1863.93,1241.5 L1864.78,1240.5 L1865.62,1241.1 L1866.46,1249.4 L1867.30,1259.0 L1868.36,1258.1 L1869.41,1257.0 L1870.47,1253.3 L1871.52,1253.0 L1872.36,1235.2 L1873.42,1233.8 L1874.47,1232.8 L1875.52,1229.5 L1876.58,1229.2 L1877.42,1234.0 L1878.26,1237.1 L1879.10,1232.2 L1879.95,1229.5 L1880.79,1225.2 L1881.97,1215.3 L1883.09,1217.4 L1884.22,1219.6 L1885.34,1221.3 L1886.69,1201.4 L1887.70,1200.4 L1888.71,1200.1 L1889.73,1199.8 L1890.74,1198.9 L1891.75,1198.5 L1891.75,1187.5 L1892.59,1186.9 L1893.43,1185.4 L1894.28,1184.6 L1895.40,1184.8 L1896.52,1184.1 L1897.65,1185.6 L1898.49,1180.5 L1899.33,1174.9 L1900.18,1169.7 L1901.02,1166.1 L1901.86,1163.7 L1902.71,1170.3 L1903.55,1176.2 L1904.39,1181.6 L1905.23,1183.8 L1906.08,1185.5 L1906.92,1188.5 L1907.93,1181.5 L1908.94,1173.8 L1909.95,1167.7 L1910.91,1168.8 L1911.86,1171.5 L1912.82,1173.7 L1913.66,1170.7 L1914.51,1169.5 L1915.35,1167.7 L1916.19,1151.8 L1917.24,1150.6 L1918.30,1148.3 L1919.35,1148.4 L1920.41,1146.9 L1921.46,1151.8 L1922.51,1159.3 L1923.57,1165.4 L1924.62,1170.7 L1925.74,1163.1 L1926.87,1154.4 L1927.99,1147.9 L1928.83,1143.9 L1929.68,1139.9 L1930.73,1140.1 L1931.78,1142.0 L1932.84,1140.5 L1933.89,1141.9 L1934.99,1134.7 L1936.08,1125.8 L1936.93,1128.7 L1937.77,1129.7 L1938.61,1130.7 L1939.45,1135.2 L1940.30,1137.2 L1941.14,1141.6 L1942.10,1137.6 L1943.05,1131.0 L1944.01,1125.8 L1945.02,1130.0 L1946.03,1132.8 L1947.04,1134.7 L1948.05,1136.4 L1949.06,1140.8 L1950.07,1142.6 L1950.99,1143.0 L1951.90,1139.8 L1952.81,1139.8 L1953.72,1140.2 L1954.63,1138.7 L1955.13,1121.8 L1956.06,1120.3 L1956.99,1122.0 L1957.91,1119.6 L1958.84,1119.8 L1959.68,1123.7 L1960.53,1124.7 L1961.37,1128.7 L1962.21,1120.8 L1963.06,1112.9 L1964.18,1120.1 L1965.30,1123.9 L1966.43,1130.7 L1967.27,1121.4 L1968.11,1113.5 L1968.96,1104.9 L1970.01,1103.9 L1971.06,1102.6 L1972.12,1102.5 L1973.17,1102.9 L1974.29,1106.9 L1975.42,1114.1 L1976.54,1117.8 L1977.38,1107.9 L1978.23,1097.0 L1979.28,1097.2 L1980.33,1094.0 L1981.39,1094.9 L1982.44,1093.0 L1983.57,1094.6 L1984.69,1098.4 L1985.81,1101.0 L1986.66,1103.3 L1987.50,1104.9 L1987.63,1152.5 L1988.34,1166.4 L1989.30,1170.0 L1990.25,1175.4 L1991.21,1178.3 L1992.22,1168.6 L1993.23,1158.7 L1994.24,1148.6 L1995.08,1148.7 L1995.93,1146.6 L1996.77,1159.3 L1997.61,1174.4 L1998.74,1172.9 L1999.86,1168.8 L2000.98,1165.4 L2001.83,1156.7 L2002.67,1148.6 L2002.67,1117.8 L2003.79,1117.7 L2004.92,1115.1 L2006.04,1114.8 L2007.05,1126.3 L2008.06,1134.7 L2009.19,1132.9 L2010.31,1130.3 L2011.44,1128.7 L2012.45,1108.9 L2013.40,1108.4 L2014.36,1106.1 L2015.31,1104.9 L2016.16,1106.6 L2017.00,1111.0 L2017.84,1112.9 L2018.68,1099.5 L2019.53,1089.0 L2020.37,1086.1 L2021.21,1081.1 L2022.06,1080.3 L2022.90,1081.6 L2023.74,1081.1 L2023.87,1068.2 L2025.07,1071.3 L2026.27,1071.2 L2027.11,1057.3 L2028.24,1061.5 L2029.36,1065.8 L2030.49,1069.2 L2031.67,1047.4 L2032.68,1044.8 L2033.69,1041.8 L2034.70,1041.4 L2035.54,1046.2 L2036.39,1052.9 L2037.23,1060.3 L2038.07,1041.4 L2039.19,1044.8 L2040.32,1047.2 L2041.44,1050.4 L2041.78,1029.5 L2042.75,1029.1 L2043.72,1029.8 L2044.69,1026.9 L2045.66,1027.5 L2046.50,1034.6 L2047.34,1043.4 L2048.47,1038.0 L2049.59,1030.0 L2050.71,1025.6 L2051.89,1015.6 L2052.79,1012.9 L2053.69,1013.2 L2054.59,1012.7 L2055.60,1035.6 L2056.61,1061.3 L2057.74,1060.1 L2058.86,1059.0 L2059.99,1059.3 L2061.33,1019.6 L2062.26,1019.6 L2063.19,1019.4 L2064.12,1017.9 L2065.04,1018.6 L2066.39,1049.4 L2067.52,1052.8 L2068.64,1055.2 L2069.76,1058.3 L2070.77,1050.5 L2071.79,1045.4 L2072.80,1039.1 L2073.81,1029.5 L2074.90,1024.5 L2076.00,1021.6 L2076.97,1025.2 L2077.94,1029.9 L2078.91,1037.0 L2079.88,1041.4 L2080.21,999.8 L2081.06,1004.5 L2081.90,1007.5 L2082.74,1009.7 L2083.69,1005.6 L2084.65,1001.3 L2085.60,998.5 L2086.29,1017.6 L2087.33,1011.9 L2088.37,1010.1 L2089.06,1040.8 L2089.76,1033.7 L2090.45,1069.3 L2091.14,1093.2 L2092.18,1086.2 L2093.22,1078.1 L2093.92,1096.9 L2094.61,1086.3 L2095.30,1079.9 L2096.00,1119.2 L2097.04,1102.1 L2098.08,1084.4 L2098.77,1075.3 L2099.46,1054.4 L2100.15,1099.1 L2100.85,1098.5 L2101.89,1098.3 L2102.93,1099.3 L2103.62,1125.8 L2104.31,1145.8 L2105.01,1141.2 L2105.70,1106.3 L2106.74,1107.1 L2107.78,1106.7 L2108.47,1105.1 L2109.17,1088.0 L2109.86,1089.6 L2110.55,1072.7 L2111.59,1078.8 L2112.63,1085.3 L2113.33,1119.9 L2114.02,1088.4 L2114.71,1094.5 L2115.41,1078.1 L2116.32,1074.8 L2117.23,1069.1 L2118.14,1063.3 L2118.99,1074.2 L2119.83,1088.6 L2120.67,1099.0 L2121.52,1097.9 L2122.36,1100.4 L2123.20,1101.0 L2124.38,1069.2 L2125.35,1070.3 L2126.32,1071.2 L2127.29,1072.0 L2128.26,1075.2 L2128.26,1023.6 L2129.38,1024.0 L2130.51,1020.3 L2131.63,1021.6 L2132.73,1028.3 L2133.82,1034.5 L2134.83,1022.0 L2135.84,1005.7 L2136.97,1006.1 L2138.09,1008.3 L2139.22,1011.7 L2139.55,995.8 L2140.56,993.3 L2141.58,989.9 L2142.59,986.9 L2143.71,989.2 L2144.84,991.6 L2145.96,991.8 L2146.80,1000.7 L2147.64,1012.7 L2148.66,1031.1 L2149.67,1051.3 L2150.68,1047.7 L2151.69,1043.9 L2152.70,1043.4 L2153.54,1035.0 L2154.39,1024.3 L2155.23,1012.7 L2156.19,1010.4 L2157.14,1003.7 L2158.10,1002.7 L2159.44,1031.5 L2160.57,1033.2 L2161.69,1032.7 L2162.82,1031.5 L2163.66,1073.2 L2164.63,1072.5 L2165.60,1073.3 L2166.57,1071.5 L2167.54,1071.2 L2167.66,1114.8 L2168.56,1109.6 L2169.45,1105.0 L2170.35,1101.7 L2171.25,1099.0 L2172.09,1115.7 L2172.93,1136.7 L2173.94,1138.5 L2174.95,1143.1 L2175.97,1144.6 L2176.98,1109.8 L2177.99,1073.2 L2179.04,1078.8 L2180.10,1082.1 L2181.15,1084.0 L2182.20,1089.0 L2182.20,1045.4 L2183.13,1043.4 L2184.06,1040.6 L2184.98,1040.1 L2185.91,1036.5 L2187.01,1058.9 L2188.10,1081.1 L2188.95,1088.6 L2189.79,1099.0 L2190.63,1106.9 L2191.47,1105.9 L2192.32,1098.9 L2193.16,1097.0 L2194.00,1081.0 L2194.85,1061.3 L2195.86,1055.4 L2196.87,1054.3 L2197.88,1058.8 L2198.89,1064.3 L2199.90,1071.2 L2201.37,1105.1 L2202.07,1105.1 L2202.76,1140.8 L2203.80,1139.7 L2204.84,1136.2 L2205.53,1162.4 L2206.23,1143.3 L2206.92,1132.0 L2207.61,1151.5 L2208.65,1145.8 L2209.69,1136.2 L2210.39,1171.7 L2211.08,1179.5 L2211.77,1219.7 L2212.47,1227.8 L2213.39,1233.6 L2214.32,1236.9 L2215.24,1242.5 L2215.93,1214.3 L2216.63,1200.7 L2217.32,1222.3 L2218.36,1212.0 L2219.40,1198.8 L2220.09,1190.4 L2220.79,1197.0 L2221.48,1174.1 L2222.17,1157.1 L2223.21,1163.8 L2224.25,1171.8 L2224.95,1216.2 L2225.64,1226.5 L2226.33,1216.0 L2227.03,1221.6 L2228.07,1216.8 L2229.11,1213.7 L2229.80,1203.9 L2230.49,1185.5 L2231.19,1203.9 L2231.88,1202.8 L2232.80,1204.6 L2233.73,1204.1 L2234.65,1204.0 L2235.34,1192.7 L2236.04,1210.3 L2236.73,1199.7 L2237.77,1191.0 L2238.81,1180.9 L2239.50,1171.3 L2240.20,1172.6 L2240.89,1185.0 L2241.58,1222.3 L2242.62,1222.5 L2243.66,1221.6 L2244.36,1226.2 L2245.05,1219.2 L2245.74,1248.7 L2246.44,1259.8 L2247.48,1271.7 L2248.52,1279.9 L2249.21,1232.3 L2249.90,1244.3 L2250.60,1237.5 L2251.29,1265.0 L2252.33,1270.7 L2253.37,1276.6 L2254.06,1222.2 L2254.76,1254.7 L2255.45,1223.4 L2256.37,1218.1 L2257.30,1210.6 L2258.22,1202.9 L2258.92,1199.8 L2259.61,1211.7 L2260.30,1227.2 L2261.00,1237.8 L2262.04,1235.7 L2263.08,1230.3 L2263.77,1182.5 L2264.87,1181.7 L2265.97,1182.5 L2267.07,1181.2 L2268.18,1180.3 L2269.02,1198.3 L2269.86,1218.0 L2270.99,1219.3 L2272.11,1223.9 L2273.23,1226.0 L2274.08,1202.7 L2274.92,1185.6 L2275.76,1162.5 L2276.82,1164.5 L2277.87,1167.6 L2278.92,1171.7 L2279.98,1177.3 L2280.82,1155.5 L2281.94,1161.5 L2283.07,1162.7 L2284.19,1167.4 L2285.03,1137.7 L2286.16,1134.9 L2287.28,1133.4 L2288.40,1134.7 L2289.25,1142.3 L2290.09,1155.5 L2290.93,1164.4 L2291.99,1155.7 L2293.04,1146.6 L2294.09,1137.4 L2295.15,1126.7 L2295.99,1125.2 L2296.83,1128.5 L2297.68,1128.7 L2298.52,1151.8 L2299.36,1176.3 L2300.42,1177.0 L2301.47,1176.0 L2302.52,1175.4 L2303.58,1172.4 L2304.42,1160.2 L2305.26,1152.5 L2306.32,1153.5 L2307.37,1152.8 L2308.42,1151.9 L2309.48,1148.6 L2310.32,1192.2 L2311.44,1190.1 L2312.57,1190.6 L2313.69,1192.2 L2313.69,1217.0 L2314.81,1206.6 L2315.94,1197.9 L2317.06,1192.2 L2317.91,1200.7 L2318.75,1207.1 L2319.59,1212.1 L2320.71,1219.4 L2321.84,1227.0 L2322.96,1231.9 L2323.09,1273.4 L2324.10,1273.1 L2325.12,1270.3 L2326.13,1268.4 L2327.14,1269.4 L2327.14,1293.3 L2328.15,1288.5 L2329.17,1289.0 L2330.18,1283.5 L2331.19,1281.3 L2332.20,1279.4 L2333.04,1298.8 L2333.89,1319.0 L2335.01,1323.5 L2336.13,1331.7 L2337.26,1339.9 L2338.27,1315.5 L2339.28,1293.3 L2340.29,1286.7 L2341.30,1277.4 L2342.32,1270.4 L2343.44,1286.1 L2344.56,1305.8 L2345.69,1320.0 L2346.53,1294.8 L2347.37,1269.4 L2348.30,1280.2 L2349.23,1287.9 L2350.15,1293.8 L2351.08,1305.2 L2351.92,1283.9 L2352.77,1263.5 L2353.78,1257.9 L2354.79,1254.4 L2355.80,1247.6 L2356.85,1248.7 L2357.91,1252.7 L2358.96,1253.8 L2360.02,1255.6 L2360.86,1287.3 L2361.91,1285.4 L2362.97,1288.9 L2364.02,1284.2 L2365.07,1286.3 L2365.20,1257.5 L2366.40,1256.9 L2367.60,1252.6 L2368.44,1262.1 L2369.29,1275.4 L2370.54,1275.7 L2371.23,1278.3 L2371.92,1316.6 L2372.61,1311.1 L2373.65,1295.2 L2374.69,1285.5 L2375.39,1329.0 L2376.08,1321.5 L2376.77,1304.4 L2377.47,1301.7 L2378.51,1329.4 L2379.55,1361.0 L2380.24,1340.0 L2380.93,1397.6 L2381.63,1347.2 L2382.32,1298.3 L2383.36,1324.2 L2384.40,1346.6 L2385.09,1365.6 L2385.79,1367.9 L2386.48,1344.5 L2387.17,1340.4 L2388.21,1397.7 L2389.25,1447.8 L2389.95,1387.5 L2390.64,1392.9 L2391.33,1439.9 L2392.03,1455.1 L2393.07,1472.4 L2394.11,1497.7 L2394.80,1558.7 L2395.49,1570.1 L2396.19,1645.5 L2396.88,1656.3 L2397.92,1603.8 L2398.96,1551.5 L2399.65,1556.9 L2400.35,1647.6 L2401.04,1608.8 L2401.73,1614.7 L2402.77,1592.1 L2403.81,1569.6 L2404.51,1600.1 L2405.20,1658.7 L2405.89,1647.3 L2406.59,1678.9 L2407.63,1695.4 L2408.67,1706.9 L2409.36,1614.7 L2410.05,1625.2 L2410.75,1601.1 L2411.44,1586.3 L2412.48,1585.0 L2413.52,1588.8 L2414.21,1549.1 L2414.91,1602.4 L2415.60,1650.6 L2416.29,1624.3 L2417.33,1630.2 L2418.37,1636.2 L2419.06,1656.6 L2419.76,1703.5 L2420.45,1644.1 L2421.14,1682.4 L2422.18,1692.6 L2423.22,1705.0 L2423.92,1696.6 L2424.61,1749.5 L2425.30,1803.9 L2426.00,1756.1 L2427.04,1732.2 L2428.08,1704.0 L2428.77,1698.4 L2429.46,1667.9 L2430.85,1659.3 L2431.89,1698.1 L2432.93,1739.8 L2433.62,1707.0 L2434.32,1684.9 L2435.01,1710.6 L2435.70,1679.6 L2436.74,1665.0 L2437.78,1645.7 L2438.48,1666.9 L2439.17,1656.3 L2439.86,1682.1 L2440.56,1675.9 L2441.60,1680.5 L2442.64,1687.1 L2443.33,1642.2 L2444.02,1651.1 L2444.72,1670.3 L2445.41,1667.7 L2446.45,1674.6 L2447.49,1684.0 L2448.18,1692.6 L2448.88,1687.5 L2450.26,1682.9 L2451.30,1685.4 L2452.34,1686.3 L2453.04,1664.9 L2453.73,1652.2 L2455.12,1623.5 L2456.16,1625.7 L2457.20,1627.9 L2457.89,1620.6 L2458.58,1648.8 L2459.28,1645.7 L2459.97,1665.2 L2461.01,1674.1 L2462.05,1685.4 L2462.74,1683.9 L2463.43,1713.2 L2464.13,1712.1 L2464.82,1705.7 L2465.75,1721.2 L2466.67,1734.4 L2467.59,1750.8 L2468.29,1715.6 L2468.98,1728.4 L2469.67,1724.0 L2470.71,1722.6 L2471.75,1719.3 L2472.45,1710.1 L2473.14,1681.6 L2473.83,1710.7 L2474.53,1730.1 L2475.57,1731.0 L2476.61,1730.5 L2477.30,1717.4 L2477.99,1723.7 L2478.69,1710.0 L2479.38,1687.1 L2480.42,1687.4 L2481.46,1685.8 L2482.15,1728.8 L2482.85,1722.2 L2483.54,1720.7 L2484.23,1729.1 L2485.16,1742.2 L2486.08,1753.9 L2487.01,1767.0 L2487.70,1767.7 L2488.39,1777.3 L2489.09,1786.2 L2490.13,1799.3 L2491.17,1813.1 L2491.86,1783.1 L2492.55,1791.4 L2493.25,1803.6 L2493.94,1821.4 L2494.98,1838.3 L2496.02,1855.9 L2496.71,1860.4 L2497.41,1843.8 L2498.10,1874.3 L2498.79,1873.4 L2499.83,1878.3 L2500.87,1880.3 L2501.57,1837.0 L2502.26,1835.2 L2502.95,1805.7 L2503.65,1799.8 L2504.69,1799.5 L2505.73,1802.5 L2506.42,1778.1 L2507.11,1761.8 L2507.81,1772.2 L2508.50,1787.7 L2509.54,1762.1 L2510.58,1733.0 L2511.27,1749.9 L2511.96,1742.1 L2512.66,1723.0 L2513.35,1740.1 L2514.39,1752.3 L2515.43,1768.6 L2516.12,1758.2 L2516.82,1745.0 L2517.51,1721.5 L2518.20,1713.3 L2519.17,1719.0 L2520.14,1726.2 L2521.11,1736.0 L2522.08,1741.2 L2522.93,1698.5 L2524.05,1698.2 L2525.17,1697.4 L2526.30,1697.5 L2527.14,1693.5 L2527.98,1686.0 L2528.83,1697.4 L2529.67,1711.0 L2530.51,1723.7 L2531.64,1712.0 L2532.76,1701.1 L2533.88,1688.0 L2535.01,1693.2 L2536.13,1696.6 L2537.26,1699.9 L2538.10,1683.3 L2538.94,1668.2 L2539.78,1648.5 L2540.63,1630.5 L2541.64,1626.4 L2542.65,1625.5 L2543.66,1635.4 L2544.67,1642.8 L2545.68,1650.3 L2546.53,1662.9 L2547.37,1673.1 L2548.38,1662.0 L2549.39,1653.7 L2550.40,1644.4 L2551.36,1653.6 L2552.31,1660.6 L2553.27,1668.2 L2554.39,1665.1 L2555.52,1665.4 L2556.64,1664.2 L2557.48,1649.1 L2558.33,1630.5 L2559.51,1610.6 L2560.60,1616.4 L2561.70,1624.5 L2562.54,1618.5 L2563.38,1614.4 L2564.23,1610.6 L2565.35,1610.9 L2566.47,1610.9 L2567.60,1608.7 L2568.44,1624.9 L2569.28,1644.4 L2570.30,1638.8 L2571.31,1635.3 L2572.32,1632.5 L2573.16,1647.0 L2574.00,1663.2 L2574.96,1653.7 L2575.91,1642.4 L2576.87,1634.4 L2577.97,1630.2 L2579.06,1627.5 L2580.07,1642.4 L2581.08,1660.2 L2581.93,1632.5 L2582.77,1655.5 L2583.61,1674.1 L2584.57,1676.1 L2585.52,1674.3 L2586.48,1677.1 L2587.38,1671.5 L2588.28,1660.2 L2589.18,1654.3 L2590.36,1616.6 L2591.20,1612.1 L2592.04,1610.7 L2592.88,1604.7 L2594.01,1604.6 L2595.13,1603.0 L2596.26,1600.7 L2596.38,1576.9 L2597.16,1573.6 L2597.94,1571.0 L2599.07,1572.9 L2600.19,1578.2 L2601.31,1580.9 L2602.16,1549.1 L2603.28,1545.4 L2604.40,1543.9 L2605.53,1543.2 L2606.37,1551.6 L2607.21,1561.0 L2608.06,1552.4 L2608.90,1547.4 L2609.74,1541.2 L2610.87,1554.1 L2611.99,1565.2 L2613.11,1575.9 L2613.96,1552.1 L2614.80,1528.3 L2615.81,1527.9 L2616.82,1526.1 L2617.83,1523.7 L2618.85,1524.8 L2619.86,1523.3 L2620.70,1526.2 L2621.54,1531.0 L2622.39,1533.3 L2623.23,1548.9 L2624.07,1561.0 L2625.19,1553.1 L2626.32,1546.1 L2627.44,1538.2 L2628.29,1536.3 L2629.13,1531.9 L2629.97,1529.3 L2630.10,1510.4 L2631.18,1505.7 L2632.26,1504.1 L2633.34,1499.5 L2633.68,1484.6 L2634.65,1485.8 L2635.62,1484.8 L2636.59,1484.0 L2637.56,1482.7 L2638.40,1498.5 L2639.24,1511.4 L2640.20,1505.6 L2641.15,1498.8 L2642.11,1491.6 L2643.12,1504.3 L2644.13,1516.6 L2645.14,1530.3 L2646.27,1515.3 L2647.39,1497.5 L2648.51,1483.7 L2649.57,1482.6 L2650.62,1483.3 L2651.68,1482.3 L2652.73,1480.7 L2653.23,1457.9 L2654.36,1457.7 L2655.48,1455.5 L2656.61,1455.9 L2657.56,1458.2 L2658.52,1461.0 L2659.47,1463.8 L2660.31,1481.2 L2661.16,1497.5 L2662.11,1504.5 L2663.07,1512.8 L2664.02,1519.4 L2664.97,1518.6 L2665.91,1513.4 L2666.86,1512.8 L2667.80,1510.9 L2668.74,1507.5 L2669.59,1485.2 L2670.43,1463.8 L2671.55,1464.8 L2672.68,1467.6 L2673.80,1466.8 L2674.64,1454.1 L2675.49,1445.0 L2676.61,1451.4 L2677.73,1456.2 L2678.86,1463.8 L2679.87,1458.3 L2680.88,1452.3 L2681.89,1444.0 L2682.85,1450.7 L2683.80,1455.7 L2684.76,1463.8 L2685.60,1458.1 L2686.44,1452.1 L2687.29,1446.0 L2688.34,1451.0 L2689.39,1454.4 L2690.45,1459.1 L2691.50,1462.8 L2692.34,1456.7 L2693.19,1447.9 L2694.24,1450.5 L2695.29,1452.5 L2696.35,1457.2 L2697.40,1457.9 L2698.61,1449.1 L2699.83,1442.6 L2700.67,1436.4 L2701.51,1428.7 L2702.57,1427.8 L2703.62,1428.7 L2704.68,1425.8 L2705.73,1426.7 L2706.57,1434.4 L2707.41,1438.7 L2708.26,1433.5 L2709.10,1427.8 L2709.94,1424.8 L2710.95,1416.6 L2711.97,1409.9 L2712.91,1408.7 L2713.85,1406.6 L2714.80,1407.2 L2715.74,1406.4 L2716.69,1405.9 L2717.61,1406.1 L2718.54,1404.4 L2719.47,1403.6 L2720.39,1403.9 L2721.49,1409.5 L2722.59,1416.8 L2722.71,1462.5 L2723.91,1462.3 L2725.11,1460.5 L2725.96,1480.3 L2726.93,1474.5 L2727.90,1466.0 L2728.87,1457.9 L2729.84,1451.5 L2731.02,1490.2 L2732.14,1493.8 L2733.26,1495.2 L2734.39,1498.2 L2735.23,1492.7 L2736.07,1487.8 L2736.92,1484.3 L2737.76,1482.1 L2738.60,1478.3 L2739.44,1468.3 L2740.29,1456.9 L2741.13,1445.6 L2742.10,1449.2 L2743.07,1453.2 L2744.04,1456.0 L2745.01,1460.5 L2746.02,1455.8 L2747.03,1448.6 L2748.04,1445.0 L2749.05,1442.6 L2750.06,1439.9 L2751.08,1436.7 L2752.09,1432.7 L2752.21,1415.8 L2753.41,1415.2 L2754.62,1414.8 L2755.46,1403.9 L2756.51,1403.3 L2757.57,1404.1 L2758.62,1402.8 L2759.67,1403.9 L2759.67,1389.0 L2760.80,1391.4 L2761.92,1391.2 L2763.04,1393.0 L2763.89,1379.1 L2765.01,1383.3 L2766.13,1384.3 L2767.26,1388.1 L2768.38,1386.6 L2769.51,1385.2 L2770.63,1385.1 L2771.98,1369.2 L2772.91,1369.5 L2773.83,1369.2 L2774.76,1369.1 L2775.69,1371.2 L2775.69,1359.3 L2776.81,1360.6 L2777.94,1359.9 L2779.06,1361.3 L2779.06,1342.4 L2780.18,1342.3 L2781.31,1343.2 L2782.43,1344.4 L2783.33,1341.6 L2784.22,1338.8 L2785.12,1336.3 L2786.16,1339.4 L2787.20,1341.6 L2787.89,1370.1 L2788.58,1362.4 L2789.28,1346.9 L2789.97,1367.1 L2791.01,1359.7 L2792.05,1351.4 L2792.74,1380.3 L2793.44,1388.0 L2794.13,1426.0 L2794.82,1443.4 L2795.86,1418.3 L2796.90,1394.2 L2797.60,1398.2 L2798.29,1382.2 L2798.98,1396.5 L2799.68,1418.4 L2800.72,1419.3 L2801.76,1417.1 L2802.45,1433.4 L2803.14,1439.2 L2803.84,1482.9 L2804.53,1466.7 L2805.57,1475.0 L2806.61,1480.8 L2807.30,1480.4 L2808.00,1486.5 L2808.69,1451.2 L2809.38,1465.0 L2810.31,1469.8 L2811.23,1478.6 L2812.16,1483.8 L2812.85,1455.9 L2813.54,1451.5 L2814.24,1489.6 L2815.28,1498.1 L2816.32,1504.1 L2817.01,1492.5 L2817.70,1498.9 L2818.40,1467.5 L2819.09,1462.8 L2820.13,1464.6 L2821.17,1464.7 L2821.86,1439.0 L2822.56,1439.6 L2823.25,1438.2 L2823.94,1436.7 L2824.98,1437.9 L2826.02,1441.0 L2826.72,1459.0 L2827.41,1462.3 L2828.10,1480.8 L2828.79,1477.7 L2829.83,1479.7 L2830.87,1479.9 L2831.57,1513.4 L2832.26,1524.0 L2832.95,1527.4 L2833.65,1532.2 L2834.57,1530.7 L2835.50,1527.4 L2836.42,1526.7 L2837.11,1494.3 L2837.81,1484.2 L2838.50,1476.5 L2839.54,1475.1 L2840.58,1475.7 L2841.27,1459.0 L2841.97,1459.2 L2842.66,1457.8 L2843.35,1489.6 L2844.39,1487.4 L2845.43,1483.2 L2846.13,1470.9 L2846.82,1484.9 L2847.51,1460.7 L2848.21,1451.6 L2849.25,1445.7 L2850.29,1439.2 L2850.98,1440.4 L2851.67,1448.1 L2852.37,1452.8 L2853.06,1452.7 L2854.10,1440.0 L2855.14,1428.3 L2855.83,1433.7 L2856.53,1426.9 L2857.22,1428.3 L2857.91,1432.5 L2858.95,1428.6 L2859.99,1426.3 L2860.69,1433.1 L2861.38,1464.9 L2862.07,1470.8 L2862.77,1475.2 L2863.81,1474.3 L2864.85,1475.0 L2865.54,1461.8 L2866.23,1460.2 L2866.93,1478.8 L2867.62,1482.8 L2868.66,1484.3 L2869.70,1487.1 L2870.39,1502.7 L2871.09,1499.2 L2871.78,1507.4 L2872.47,1489.9 L2873.51,1498.5 L2874.55,1505.7 L2875.24,1505.3 L2875.94,1474.1 L2876.63,1464.3 L2877.32,1449.8 L2878.38,1452.5 L2879.44,1455.2 L2880.50,1460.4 L2881.55,1462.5 L2882.56,1449.4 L2883.58,1434.7 L2884.70,1433.1 L2885.82,1434.5 L2886.95,1432.7 L2887.79,1423.1 L2888.63,1412.9 L2889.76,1419.3 L2890.88,1424.6 L2892.00,1429.7 L2892.85,1406.9 L2893.82,1408.4 L2894.79,1408.3 L2895.75,1408.7 L2896.72,1407.9 L2897.68,1410.3 L2898.63,1415.1 L2899.59,1417.8 L2899.72,1395.0 L2900.80,1393.8 L2901.88,1393.1 L2902.96,1391.0 L2903.80,1377.1 L2904.93,1376.3 L2906.05,1377.0 L2907.18,1375.2 L2908.19,1379.6 L2909.20,1383.0 L2910.21,1388.1 L2910.34,1369.2 L2911.23,1368.9 L2912.13,1369.1 L2913.02,1370.7 L2913.92,1371.2 L2914.90,1369.5 L2915.89,1370.4 L2916.87,1369.1 L2917.85,1369.8 L2918.84,1369.5 L2919.82,1369.2 L2919.82,1329.5 L2920.66,1329.0 L2921.50,1329.3 L2922.35,1327.5 L2923.47,1328.7 L2924.60,1333.8 L2925.72,1335.5 L2926.56,1348.9 L2927.40,1362.8 L2928.25,1376.2 L2929.37,1369.4 L2930.50,1362.7 L2931.62,1354.3 L2932.74,1360.5 L2933.87,1367.3 L2934.99,1374.2 L2935.83,1355.3 L2936.85,1362.7 L2937.86,1365.9 L2938.87,1373.2 L2940.05,1331.5 L2941.10,1331.4 L2942.16,1330.9 L2943.21,1328.6 L2944.26,1329.5 L2944.26,1313.7 L2945.27,1314.8 L2946.29,1315.8 L2947.30,1317.4 L2948.31,1316.3 L2949.32,1317.6 L2950.16,1314.6 L2951.01,1308.7 L2951.85,1304.4 L2952.69,1300.0 L2953.53,1295.8 L2954.38,1296.7 L2955.22,1293.7 L2956.06,1294.8 L2957.12,1295.5 L2958.17,1295.2 L2959.22,1294.3 L2960.28,1294.8 L2961.12,1290.7 L2961.96,1283.8 L2962.81,1278.9 L2963.86,1278.1 L2964.91,1277.5 L2965.97,1277.6 L2967.02,1276.0 L2968.37,1259.3 L2969.34,1258.1 L2970.32,1258.6 L2971.29,1258.4 L2972.27,1258.6 L2973.25,1258.2 L2974.12,1272.6 L2975.12,1269.1 L2976.12,1262.7 L2977.13,1259.9 L2978.13,1254.1 L2979.00,1265.1 L2979.87,1276.7 L2981.09,1245.9 L2982.18,1242.3 L2983.27,1238.0 L2984.36,1235.2 L2985.45,1231.6 L2986.32,1229.7 L2987.20,1225.2 L2988.07,1221.3 L2988.94,1221.2 L2989.81,1218.7 L2990.68,1218.2 L2991.73,1214.5 L2992.77,1211.4 L2993.82,1209.0 L2994.87,1217.5 L2995.91,1225.4 L2996.78,1236.1 L2997.66,1245.9 L2998.53,1240.3 L2999.40,1231.5 L3000.27,1226.4 L3001.40,1224.5 L3002.54,1221.3 L3003.24,1247.0 L3004.28,1243.1 L3005.33,1236.8 L3006.37,1231.6 L3007.77,1230.5 L3007.77,1258.2 L3008.81,1253.1 L3009.86,1251.1 L3010.73,1265.4 L3011.60,1279.5 L3012.48,1296.2 L3013.35,1287.2 L3014.22,1282.0 L3015.09,1272.6 L3016.14,1262.4 L3017.18,1251.9 L3018.23,1240.8 L3019.22,1242.5 L3020.21,1243.6 L3021.19,1242.9 L3022.07,1221.3 L3023.16,1220.7 L3024.24,1219.7 L3025.33,1218.7 L3026.42,1217.2 L3027.41,1221.3 L3028.40,1224.4 L3029.39,1227.5 L3030.43,1239.8 L3031.38,1242.1 L3032.32,1242.0 L3033.26,1245.3 L3034.20,1246.2 L3035.14,1248.0 L3036.01,1216.2 L3037.10,1217.4 L3038.19,1215.2 L3039.28,1215.7 L3040.37,1217.2 L3040.90,1190.5 L3041.94,1187.6 L3042.99,1188.5 L3043.86,1191.0 L3044.73,1192.9 L3045.60,1192.6 L3046.82,1218.2 L3047.83,1213.2 L3048.83,1206.4 L3049.83,1202.7 L3050.83,1195.7 L3051.71,1205.4 L3052.58,1213.0 L3053.45,1221.3 L3054.49,1216.2 L3055.54,1212.3 L3056.59,1209.0 L3057.63,1222.0 L3058.68,1235.7 L3059.84,1234.9 L3061.00,1235.4 L3062.17,1235.7 L3063.04,1211.0 L3064.17,1210.1 L3065.30,1208.0 L3066.53,1233.6 L3067.61,1243.1 L3068.70,1247.1 L3069.79,1257.0 L3070.88,1264.4 L3071.76,1271.0 L3072.63,1281.8 L3073.50,1271.8 L3074.37,1265.4 L3075.24,1273.1 L3076.11,1278.1 L3076.99,1283.9 L3077.86,1277.2 L3078.73,1265.8 L3079.60,1257.2 L3080.47,1264.2 L3081.35,1275.8 L3082.22,1285.9 L3083.38,1282.0 L3084.54,1279.4 L3085.70,1272.6 L3085.70,1213.1 L3086.79,1212.3 L3087.88,1206.3 L3088.97,1202.6 L3090.06,1199.8 L3090.93,1211.0 L3091.81,1227.2 L3092.68,1239.8 L3093.77,1240.0 L3094.86,1241.5 L3095.95,1242.5 L3097.04,1247.0 L3097.91,1226.3 L3098.78,1211.0 L3099.65,1211.0 L3100.52,1206.9 L3101.40,1208.0 L3102.56,1215.0 L3103.72,1214.6 L3104.88,1221.3 L3105.75,1238.7 L3106.63,1252.1 L3107.49,1266.2 L3108.19,1299.3 L3108.88,1293.0 L3109.57,1353.6 L3110.27,1354.3 L3111.31,1392.5 L3112.35,1434.7 L3113.04,1381.3 L3113.73,1433.4 L3114.43,1381.2 L3115.12,1375.0 L3116.16,1359.5 L3117.20,1349.2 L3117.89,1361.0 L3118.59,1359.8 L3119.28,1413.4 L3119.97,1430.6 L3121.01,1431.6 L3122.05,1430.3 L3122.75,1391.6 L3123.44,1376.2 L3124.13,1394.7 L3124.83,1377.0 L3125.87,1359.0 L3126.91,1343.6 L3127.60,1340.7 L3128.29,1334.7 L3128.99,1349.3 L3129.68,1379.9 L3130.60,1384.0 L3131.53,1384.2 L3132.45,1388.7 L3133.15,1355.1 L3133.84,1367.9 L3134.53,1399.7 L3135.57,1393.9 L3136.61,1391.7 L3137.31,1381.0 L3138.00,1365.1 L3138.69,1344.5 L3139.39,1337.6 L3140.43,1344.7 L3141.47,1349.6 L3142.16,1351.6 L3142.85,1387.1 L3143.55,1424.6 L3144.24,1417.7 L3145.28,1405.2 L3146.32,1391.0 L3147.01,1378.5 L3147.70,1402.9 L3148.40,1393.5 L3149.09,1422.7 L3150.13,1440.4 L3151.17,1455.1 L3151.86,1430.2 L3152.56,1410.0 L3153.25,1388.9 L3153.94,1398.5 L3154.98,1379.6 L3156.02,1358.8 L3156.72,1358.2 L3157.41,1346.4 L3158.10,1350.0 L3158.80,1329.0 L3159.84,1339.1 L3160.88,1352.8 L3161.57,1328.2 L3162.26,1343.8 L3162.96,1338.2 L3163.65,1315.2 L3164.69,1307.7 L3165.73,1299.2 L3166.42,1324.5 L3167.12,1311.4 L3167.81,1268.6 L3168.50,1268.1 L3169.54,1285.0 L3170.58,1300.1 L3171.28,1335.3 L3171.97,1315.6 L3172.66,1292.2 L3173.36,1300.2 L3174.40,1296.0 L3175.44,1292.2 L3176.13,1277.3 L3176.82,1324.4 L3177.52,1313.8 L3178.21,1289.5 L3179.25,1297.2 L3180.29,1301.6 L3180.98,1295.5 L3181.68,1316.6 L3182.37,1337.5 L3183.06,1338.0 L3184.10,1348.5 L3185.14,1360.8 L3185.84,1365.7 L3186.53,1392.1 L3187.92,1395.3 L3188.96,1379.8 L3190.00,1361.2 L3190.69,1358.5 L3191.38,1306.5 L3192.07,1308.9 L3192.77,1309.2 L3193.81,1303.4 L3194.85,1296.3 L3195.54,1294.9 L3196.23,1292.3 L3196.93,1319.1 L3197.62,1298.2 L3198.66,1306.1 L3199.70,1317.0 L3200.39,1327.8 L3201.09,1341.8 L3201.78,1337.9 L3202.47,1333.9 L3203.51,1339.7 L3204.55,1348.3 L3205.25,1312.2 L3205.94,1309.7 L3206.63,1299.4 L3207.33,1288.0 L3208.25,1288.4 L3209.18,1288.9 L3210.10,1287.9 L3210.79,1303.8 L3211.49,1290.3 L3212.18,1295.8 L3213.10,1288.1 L3214.03,1282.2 L3214.95,1276.2" fill="none" stroke="#0E2841" stroke-width="6.2" stroke-linejoin="round" stroke-linecap="round"/></g>
<g transform="scale(1.177,1)"><rect x="176.21" y="45.9" width="3039.59" height="2012.0" fill="none" stroke="#0E2841" stroke-width="6.3" stroke-linejoin="round"/></g>
<g stroke="#D9D9D9" stroke-width="3.6" fill="none">
<line x1="207.0" y1="2057.9" x2="3786.0" y2="2057.9"/>
<line x1="207.5" y1="2057.9" x2="207.5" y2="2075.8" stroke-width="3.9"/>
<line x1="506.2" y1="2057.9" x2="506.2" y2="2075.8" stroke-width="3.9"/>
<line x1="804.0" y1="2057.9" x2="804.0" y2="2075.8" stroke-width="3.9"/>
<line x1="1101.8" y1="2057.9" x2="1101.8" y2="2075.8" stroke-width="3.9"/>
<line x1="1399.7" y1="2057.9" x2="1399.7" y2="2075.8" stroke-width="3.9"/>
<line x1="1698.3" y1="2057.9" x2="1698.3" y2="2075.8" stroke-width="3.9"/>
<line x1="1996.2" y1="2057.9" x2="1996.2" y2="2075.8" stroke-width="3.9"/>
<line x1="2294.0" y1="2057.9" x2="2294.0" y2="2075.8" stroke-width="3.9"/>
<line x1="2591.8" y1="2057.9" x2="2591.8" y2="2075.8" stroke-width="3.9"/>
<line x1="2890.5" y1="2057.9" x2="2890.5" y2="2075.8" stroke-width="3.9"/>
<line x1="3188.3" y1="2057.9" x2="3188.3" y2="2075.8" stroke-width="3.9"/>
<line x1="3486.2" y1="2057.9" x2="3486.2" y2="2075.8" stroke-width="3.9"/>
<line x1="3784.0" y1="2057.9" x2="3784.0" y2="2075.8" stroke-width="3.9"/>
</g>
<line x1="202.0" y1="1083.1" x2="3800.8" y2="1301.9" stroke="#C00000" stroke-width="7.8" stroke-dasharray="72.5 27.07"/>
<text class="b" x="147" y="62.3" font-size="53" text-anchor="end" textLength="135.2" lengthAdjust="spacingAndGlyphs">2500</text>
<text class="b" x="147" y="263.5" font-size="53" text-anchor="end" textLength="135.2" lengthAdjust="spacingAndGlyphs">2300</text>
<text class="b" x="147" y="464.7" font-size="53" text-anchor="end" textLength="135.2" lengthAdjust="spacingAndGlyphs">2100</text>
<text class="b" x="147" y="665.9" font-size="53" text-anchor="end" textLength="135.2" lengthAdjust="spacingAndGlyphs">1900</text>
<text class="b" x="147" y="867.1" font-size="53" text-anchor="end" textLength="135.2" lengthAdjust="spacingAndGlyphs">1700</text>
<text class="b" x="147" y="1068.3" font-size="53" text-anchor="end" textLength="135.2" lengthAdjust="spacingAndGlyphs">1500</text>
<text class="b" x="147" y="1269.5" font-size="53" text-anchor="end" textLength="135.2" lengthAdjust="spacingAndGlyphs">1300</text>
<text class="b" x="147" y="1470.7" font-size="53" text-anchor="end" textLength="135.2" lengthAdjust="spacingAndGlyphs">1100</text>
<text class="b" x="147" y="1671.9" font-size="53" text-anchor="end" textLength="102.6" lengthAdjust="spacingAndGlyphs">900</text>
<text class="b" x="147" y="1873.1" font-size="53" text-anchor="end" textLength="102.6" lengthAdjust="spacingAndGlyphs">700</text>
<text class="b" x="147" y="2074.3" font-size="53" text-anchor="end" textLength="102.6" lengthAdjust="spacingAndGlyphs">500</text>
<text class="b" x="1649" y="139.6" font-size="96" textLength="205" lengthAdjust="spacingAndGlyphs">S&amp;P</text>
<text class="b" x="1874" y="139.6" font-size="96" textLength="186" lengthAdjust="spacingAndGlyphs">500</text>
<text class="b" x="2082" y="139.6" font-size="96" textLength="273" lengthAdjust="spacingAndGlyphs">Index</text>
<g transform="translate(194.1,2132.8) scale(1.177,1) rotate(45)"><text class="b" x="0" y="0" font-size="54.3">1/3/2000</text></g>
<g transform="translate(492.8,2132.8) scale(1.177,1) rotate(45)"><text class="b" x="0" y="0" font-size="54.3">1/3/2001</text></g>
<g transform="translate(790.6,2132.8) scale(1.177,1) rotate(45)"><text class="b" x="0" y="0" font-size="54.3">1/3/2002</text></g>
<g transform="translate(1088.4,2132.8) scale(1.177,1) rotate(45)"><text class="b" x="0" y="0" font-size="54.3">1/3/2003</text></g>
<g transform="translate(1386.3,2132.8) scale(1.177,1) rotate(45)"><text class="b" x="0" y="0" font-size="54.3">1/3/2004</text></g>
<g transform="translate(1684.9,2132.8) scale(1.177,1) rotate(45)"><text class="b" x="0" y="0" font-size="54.3">1/3/2005</text></g>
<g transform="translate(1982.8,2132.8) scale(1.177,1) rotate(45)"><text class="b" x="0" y="0" font-size="54.3">1/3/2006</text></g>
<g transform="translate(2280.6,2132.8) scale(1.177,1) rotate(45)"><text class="b" x="0" y="0" font-size="54.3">1/3/2007</text></g>
<g transform="translate(2578.4,2132.8) scale(1.177,1) rotate(45)"><text class="b" x="0" y="0" font-size="54.3">1/3/2008</text></g>
<g transform="translate(2877.1,2132.8) scale(1.177,1) rotate(45)"><text class="b" x="0" y="0" font-size="54.3">1/3/2009</text></g>
<g transform="translate(3174.9,2132.8) scale(1.177,1) rotate(45)"><text class="b" x="0" y="0" font-size="54.3">1/3/2010</text></g>
<g transform="translate(3472.8,2132.8) scale(1.177,1) rotate(45)"><text class="b" x="0" y="0" font-size="54.3">1/3/2011</text></g>
<g transform="translate(3770.6,2132.8) scale(1.177,1) rotate(45)"><text class="b" x="0" y="0" font-size="54.3">1/3/2012</text></g>
<text class="t" x="2747" y="1994.2" font-size="46" font-style="italic" textLength="970" lengthAdjust="spacingAndGlyphs">Sources: Bloomberg LP, Raymond James</text>
<rect x="2706.0" y="59.9" width="1056.6999999999998" height="1072.3" fill="#D9D9D9"/>
<rect x="2706.0" y="140" width="1056.6999999999998" height="73.8" fill="#F2F2F2"/>
<rect x="2706.0" y="213.3" width="1056.6999999999998" height="77.0" fill="#D9D9D9"/>
<rect x="2706.0" y="289.8" width="1056.6999999999998" height="76.5" fill="#F2F2F2"/>
<rect x="2706.0" y="365.8" width="1056.6999999999998" height="76.9" fill="#D9D9D9"/>
<rect x="2706.0" y="442.2" width="1056.6999999999998" height="77.0" fill="#F2F2F2"/>
<rect x="2706.0" y="518.7" width="1056.6999999999998" height="77.4" fill="#D9D9D9"/>
<rect x="2706.0" y="595.6" width="1056.6999999999998" height="76.9" fill="#F2F2F2"/>
<rect x="2706.0" y="672" width="1056.6999999999998" height="76.5" fill="#D9D9D9"/>
<rect x="2706.0" y="748" width="1056.6999999999998" height="75.2" fill="#F2F2F2"/>
<rect x="2706.0" y="822.7" width="1056.6999999999998" height="76.5" fill="#D9D9D9"/>
<rect x="2706.0" y="898.7" width="1056.6999999999998" height="76.5" fill="#F2F2F2"/>
<rect x="2706.0" y="974.7" width="1056.6999999999998" height="76.8" fill="#D9D9D9"/>
<rect x="2706.0" y="1051" width="1056.6999999999998" height="77.0" fill="#F2F2F2"/>
<text class="t" x="2745" y="197.0" font-size="52.5" textLength="240.5" lengthAdjust="spacingAndGlyphs">1/3/2000</text>
<text class="t" x="3271.5" y="197.0" font-size="52.5" text-anchor="end" textLength="235.0" lengthAdjust="spacingAndGlyphs">1,455.22</text>
<text class="t" x="2745" y="273.5" font-size="52.5" textLength="240.5" lengthAdjust="spacingAndGlyphs">1/2/2001</text>
<text class="t" x="3271.5" y="273.5" font-size="52.5" text-anchor="end" textLength="235.0" lengthAdjust="spacingAndGlyphs">1,283.27</text>
<text class="t" x="3531" y="273.5" font-size="52.5" text-anchor="middle" textLength="188.7" lengthAdjust="spacingAndGlyphs">-11.8%</text>
<text class="t" x="2745" y="349.5" font-size="52.5" textLength="240.5" lengthAdjust="spacingAndGlyphs">1/2/2002</text>
<text class="t" x="3271.5" y="349.5" font-size="52.5" text-anchor="end" textLength="235.0" lengthAdjust="spacingAndGlyphs">1,154.67</text>
<text class="t" x="3531" y="349.5" font-size="52.5" text-anchor="middle" textLength="188.7" lengthAdjust="spacingAndGlyphs">-10.0%</text>
<text class="t" x="2745" y="425.9" font-size="52.5" textLength="240.5" lengthAdjust="spacingAndGlyphs">1/2/2003</text>
<text class="t" x="3271.5" y="425.9" font-size="52.5" text-anchor="end" textLength="185.9" lengthAdjust="spacingAndGlyphs">909.03</text>
<text class="t" x="3531" y="425.9" font-size="52.5" text-anchor="middle" textLength="188.7" lengthAdjust="spacingAndGlyphs">-21.3%</text>
<text class="t" x="2745" y="502.4" font-size="52.5" textLength="240.5" lengthAdjust="spacingAndGlyphs">1/2/2004</text>
<text class="t" x="3271.5" y="502.4" font-size="52.5" text-anchor="end" textLength="235.0" lengthAdjust="spacingAndGlyphs">1,108.48</text>
<text class="t" x="3531" y="502.4" font-size="52.5" text-anchor="middle" textLength="168.5" lengthAdjust="spacingAndGlyphs">21.9%</text>
<text class="t" x="2745" y="579.3" font-size="52.5" textLength="240.5" lengthAdjust="spacingAndGlyphs">1/3/2005</text>
<text class="t" x="3271.5" y="579.3" font-size="52.5" text-anchor="end" textLength="235.0" lengthAdjust="spacingAndGlyphs">1,202.08</text>
<text class="t" x="3531" y="579.3" font-size="52.5" text-anchor="middle" textLength="134.3" lengthAdjust="spacingAndGlyphs">8.4%</text>
<text class="t" x="2745" y="655.7" font-size="52.5" textLength="240.5" lengthAdjust="spacingAndGlyphs">1/3/2006</text>
<text class="t" x="3271.5" y="655.7" font-size="52.5" text-anchor="end" textLength="235.0" lengthAdjust="spacingAndGlyphs">1,268.80</text>
<text class="t" x="3531" y="655.7" font-size="52.5" text-anchor="middle" textLength="134.3" lengthAdjust="spacingAndGlyphs">5.6%</text>
<text class="t" x="2745" y="731.7" font-size="52.5" textLength="240.5" lengthAdjust="spacingAndGlyphs">1/3/2007</text>
<text class="t" x="3271.5" y="731.7" font-size="52.5" text-anchor="end" textLength="235.0" lengthAdjust="spacingAndGlyphs">1,416.60</text>
<text class="t" x="3531" y="731.7" font-size="52.5" text-anchor="middle" textLength="168.5" lengthAdjust="spacingAndGlyphs">11.6%</text>
<text class="t" x="2745" y="806.4" font-size="52.5" textLength="240.5" lengthAdjust="spacingAndGlyphs">1/2/2008</text>
<text class="t" x="3271.5" y="806.4" font-size="52.5" text-anchor="end" textLength="235.0" lengthAdjust="spacingAndGlyphs">1,447.16</text>
<text class="t" x="3531" y="806.4" font-size="52.5" text-anchor="middle" textLength="134.3" lengthAdjust="spacingAndGlyphs">2.2%</text>
<text class="t" x="2745" y="882.4" font-size="52.5" textLength="240.5" lengthAdjust="spacingAndGlyphs">1/2/2009</text>
<text class="t" x="3271.5" y="882.4" font-size="52.5" text-anchor="end" textLength="185.9" lengthAdjust="spacingAndGlyphs">931.80</text>
<text class="t" x="3531" y="882.4" font-size="52.5" text-anchor="middle" textLength="188.7" lengthAdjust="spacingAndGlyphs">-35.6%</text>
<text class="t" x="2745" y="958.4" font-size="52.5" textLength="240.5" lengthAdjust="spacingAndGlyphs">1/4/2010</text>
<text class="t" x="3271.5" y="958.4" font-size="52.5" text-anchor="end" textLength="235.0" lengthAdjust="spacingAndGlyphs">1,132.98</text>
<text class="t" x="3531" y="958.4" font-size="52.5" text-anchor="middle" textLength="168.5" lengthAdjust="spacingAndGlyphs">21.6%</text>
<text class="t" x="2745" y="1034.7" font-size="52.5" textLength="240.5" lengthAdjust="spacingAndGlyphs">1/3/2011</text>
<text class="t" x="3271.5" y="1034.7" font-size="52.5" text-anchor="end" textLength="235.0" lengthAdjust="spacingAndGlyphs">1,271.87</text>
<text class="t" x="3531" y="1034.7" font-size="52.5" text-anchor="middle" textLength="168.5" lengthAdjust="spacingAndGlyphs">12.3%</text>
<text class="t" x="2745" y="1111.2" font-size="52.5" textLength="240.5" lengthAdjust="spacingAndGlyphs">1/3/2012</text>
<text class="t" x="3271.5" y="1111.2" font-size="52.5" text-anchor="end" textLength="235.0" lengthAdjust="spacingAndGlyphs">1,277.06</text>
<text class="t" x="3531" y="1111.2" font-size="52.5" text-anchor="middle" textLength="134.3" lengthAdjust="spacingAndGlyphs">0.4%</text>
<text x="3311" y="120.5" font-size="52" font-weight="bold" fill="#000" textLength="200" lengthAdjust="spacingAndGlyphs">Annual</text>
<text x="3521" y="120.5" font-size="52" font-weight="bold" fill="#000" textLength="214" lengthAdjust="spacingAndGlyphs">Change</text>
<rect x="2706.0" y="135.7" width="1056.6999999999998" height="5.6" fill="#000"/>
<rect x="2706.0" y="59.9" width="1056.6999999999998" height="3.2" fill="#000"/>
<rect x="2706.0" y="59.9" width="3.2" height="1072.3" fill="#000"/>
<rect x="3757.2" y="59.9" width="5.5" height="1072.3" fill="#000"/>
<rect x="2706.0" y="1127.4" width="1056.6999999999998" height="4.8" fill="#000"/>
</svg></body></html>
